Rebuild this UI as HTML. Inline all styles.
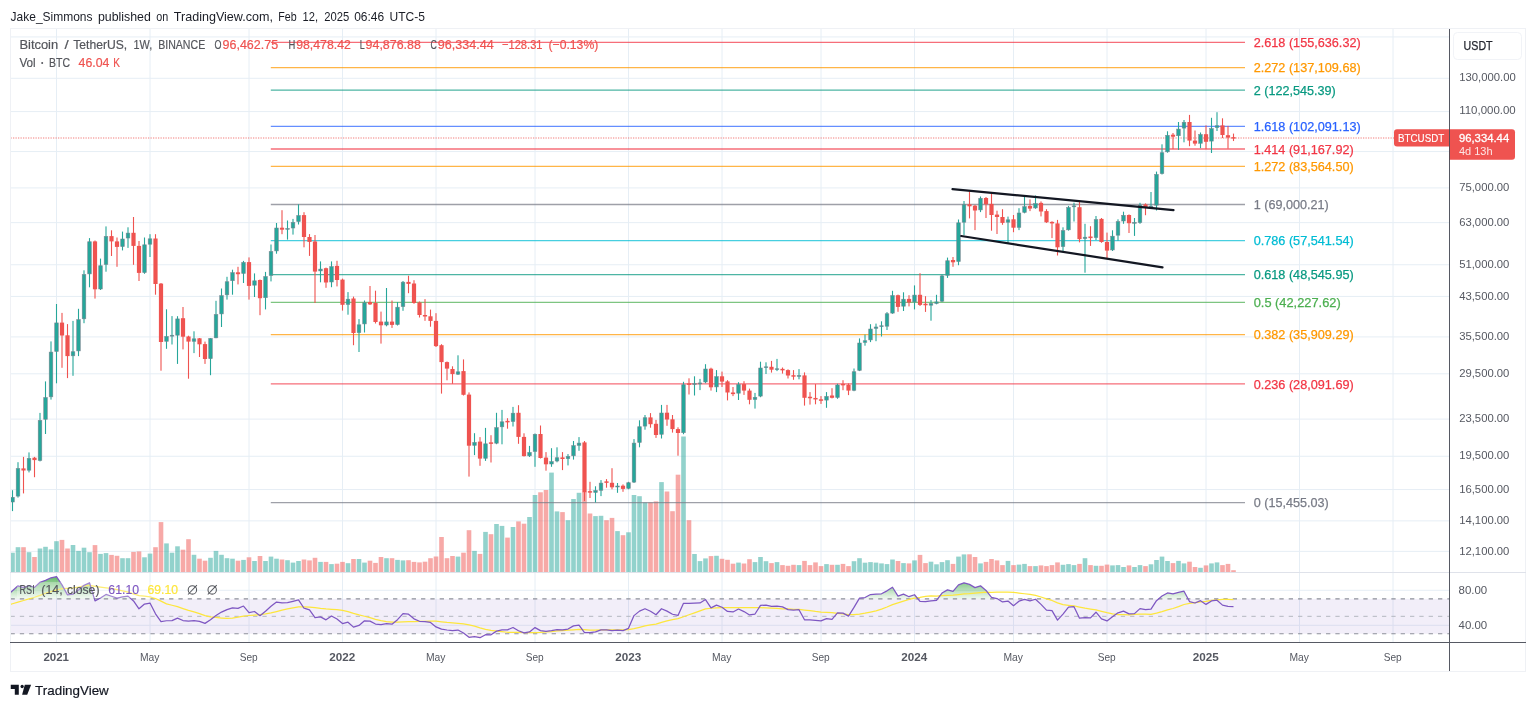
<!DOCTYPE html><html><head><meta charset="utf-8"><title>BTCUSDT</title><style>
html,body{margin:0;padding:0;background:#fff}body{width:1536px;height:709px;overflow:hidden;font-family:"Liberation Sans",sans-serif}svg{display:block;will-change:transform}text{font-family:"Liberation Sans",sans-serif}
</style></head><body>
<svg width="1536" height="709" viewBox="0 0 1536 709">
<rect width="1536" height="709" fill="#fff"/>
<g stroke="#e6eef5" stroke-width="1">
<line x1="56.5" y1="29" x2="56.5" y2="642"/>
<line x1="150.0" y1="29" x2="150.0" y2="642"/>
<line x1="249.0" y1="29" x2="249.0" y2="642"/>
<line x1="342.5" y1="29" x2="342.5" y2="642"/>
<line x1="436.0" y1="29" x2="436.0" y2="642"/>
<line x1="535.0" y1="29" x2="535.0" y2="642"/>
<line x1="628.5" y1="29" x2="628.5" y2="642"/>
<line x1="722.0" y1="29" x2="722.0" y2="642"/>
<line x1="821.0" y1="29" x2="821.0" y2="642"/>
<line x1="914.5" y1="29" x2="914.5" y2="642"/>
<line x1="1013.5" y1="29" x2="1013.5" y2="642"/>
<line x1="1107.0" y1="29" x2="1107.0" y2="642"/>
<line x1="1206.0" y1="29" x2="1206.0" y2="642"/>
<line x1="1299.5" y1="29" x2="1299.5" y2="642"/>
<line x1="1393.0" y1="29" x2="1393.0" y2="642"/>
<line x1="10" y1="36.94" x2="1450" y2="36.94"/>
<line x1="10" y1="151.57" x2="1450" y2="151.57"/>
<line x1="10" y1="78.31" x2="1450" y2="78.31"/>
<line x1="10" y1="111.59" x2="1450" y2="111.59"/>
<line x1="10" y1="187.9" x2="1450" y2="187.9"/>
<line x1="10" y1="222.64" x2="1450" y2="222.64"/>
<line x1="10" y1="264.74" x2="1450" y2="264.74"/>
<line x1="10" y1="296.43" x2="1450" y2="296.43"/>
<line x1="10" y1="336.92" x2="1450" y2="336.92"/>
<line x1="10" y1="373.8" x2="1450" y2="373.8"/>
<line x1="10" y1="419.11" x2="1450" y2="419.11"/>
<line x1="10" y1="456.28" x2="1450" y2="456.28"/>
<line x1="10" y1="489.56" x2="1450" y2="489.56"/>
<line x1="10" y1="520.88" x2="1450" y2="520.88"/>
<line x1="10" y1="551.36" x2="1450" y2="551.36"/>
<line x1="10" y1="590.3" x2="1450" y2="590.3"/>
<line x1="10" y1="625.3" x2="1450" y2="625.3"/>
</g>
<g>
<rect x="10.6" y="552.7" width="4.2" height="19.3" fill="#26a69a" fill-opacity="0.5"/>
<rect x="15.7" y="547.2" width="4.6" height="24.8" fill="#26a69a" fill-opacity="0.5"/>
<rect x="21.2" y="547.2" width="4.6" height="24.8" fill="#ef5350" fill-opacity="0.5"/>
<rect x="26.7" y="552.2" width="4.6" height="19.8" fill="#26a69a" fill-opacity="0.5"/>
<rect x="32.2" y="557" width="4.6" height="15" fill="#ef5350" fill-opacity="0.5"/>
<rect x="37.7" y="548.5" width="4.6" height="23.5" fill="#26a69a" fill-opacity="0.5"/>
<rect x="43.2" y="546.8" width="4.6" height="25.2" fill="#26a69a" fill-opacity="0.5"/>
<rect x="48.7" y="549.4" width="4.6" height="22.6" fill="#26a69a" fill-opacity="0.5"/>
<rect x="54.2" y="541.2" width="4.6" height="30.8" fill="#26a69a" fill-opacity="0.5"/>
<rect x="59.7" y="539.9" width="4.6" height="32.1" fill="#ef5350" fill-opacity="0.5"/>
<rect x="65.2" y="548.5" width="4.6" height="23.5" fill="#ef5350" fill-opacity="0.5"/>
<rect x="70.7" y="545" width="4.6" height="27" fill="#26a69a" fill-opacity="0.5"/>
<rect x="76.2" y="550.9" width="4.6" height="21.1" fill="#26a69a" fill-opacity="0.5"/>
<rect x="81.7" y="547.7" width="4.6" height="24.3" fill="#26a69a" fill-opacity="0.5"/>
<rect x="87.2" y="552.2" width="4.6" height="19.8" fill="#26a69a" fill-opacity="0.5"/>
<rect x="92.7" y="545.1" width="4.6" height="26.9" fill="#ef5350" fill-opacity="0.5"/>
<rect x="98.2" y="553.9" width="4.6" height="18.1" fill="#26a69a" fill-opacity="0.5"/>
<rect x="103.7" y="553.1" width="4.6" height="18.9" fill="#26a69a" fill-opacity="0.5"/>
<rect x="109.2" y="554.9" width="4.6" height="17.1" fill="#ef5350" fill-opacity="0.5"/>
<rect x="114.7" y="555.8" width="4.6" height="16.2" fill="#ef5350" fill-opacity="0.5"/>
<rect x="120.2" y="558.2" width="4.6" height="13.8" fill="#26a69a" fill-opacity="0.5"/>
<rect x="125.7" y="558.2" width="4.6" height="13.8" fill="#26a69a" fill-opacity="0.5"/>
<rect x="131.2" y="551.9" width="4.6" height="20.1" fill="#ef5350" fill-opacity="0.5"/>
<rect x="136.7" y="551.4" width="4.6" height="20.6" fill="#ef5350" fill-opacity="0.5"/>
<rect x="142.2" y="557.3" width="4.6" height="14.7" fill="#26a69a" fill-opacity="0.5"/>
<rect x="147.7" y="553.6" width="4.6" height="18.4" fill="#26a69a" fill-opacity="0.5"/>
<rect x="153.2" y="547.2" width="4.6" height="24.8" fill="#ef5350" fill-opacity="0.5"/>
<rect x="158.7" y="522.1" width="4.6" height="49.9" fill="#ef5350" fill-opacity="0.5"/>
<rect x="164.2" y="543.4" width="4.6" height="28.6" fill="#26a69a" fill-opacity="0.5"/>
<rect x="169.7" y="552.7" width="4.6" height="19.3" fill="#26a69a" fill-opacity="0.5"/>
<rect x="175.2" y="546.3" width="4.6" height="25.7" fill="#26a69a" fill-opacity="0.5"/>
<rect x="180.7" y="549.7" width="4.6" height="22.3" fill="#ef5350" fill-opacity="0.5"/>
<rect x="186.2" y="539.2" width="4.6" height="32.8" fill="#ef5350" fill-opacity="0.5"/>
<rect x="191.7" y="554.8" width="4.6" height="17.2" fill="#26a69a" fill-opacity="0.5"/>
<rect x="197.2" y="558.7" width="4.6" height="13.3" fill="#ef5350" fill-opacity="0.5"/>
<rect x="202.7" y="560.7" width="4.6" height="11.3" fill="#ef5350" fill-opacity="0.5"/>
<rect x="208.2" y="557.8" width="4.6" height="14.2" fill="#26a69a" fill-opacity="0.5"/>
<rect x="213.7" y="550.9" width="4.6" height="21.1" fill="#26a69a" fill-opacity="0.5"/>
<rect x="219.2" y="554.8" width="4.6" height="17.2" fill="#26a69a" fill-opacity="0.5"/>
<rect x="224.7" y="558.2" width="4.6" height="13.8" fill="#26a69a" fill-opacity="0.5"/>
<rect x="230.2" y="558.7" width="4.6" height="13.3" fill="#26a69a" fill-opacity="0.5"/>
<rect x="235.7" y="560.7" width="4.6" height="11.3" fill="#ef5350" fill-opacity="0.5"/>
<rect x="241.2" y="559.9" width="4.6" height="12.1" fill="#26a69a" fill-opacity="0.5"/>
<rect x="246.7" y="557.3" width="4.6" height="14.7" fill="#ef5350" fill-opacity="0.5"/>
<rect x="252.2" y="561" width="4.6" height="11" fill="#26a69a" fill-opacity="0.5"/>
<rect x="257.7" y="556" width="4.6" height="16" fill="#ef5350" fill-opacity="0.5"/>
<rect x="263.2" y="561" width="4.6" height="11" fill="#26a69a" fill-opacity="0.5"/>
<rect x="268.7" y="556.6" width="4.6" height="15.4" fill="#26a69a" fill-opacity="0.5"/>
<rect x="274.2" y="558.7" width="4.6" height="13.3" fill="#26a69a" fill-opacity="0.5"/>
<rect x="279.7" y="559.5" width="4.6" height="12.5" fill="#ef5350" fill-opacity="0.5"/>
<rect x="285.2" y="560.2" width="4.6" height="11.8" fill="#26a69a" fill-opacity="0.5"/>
<rect x="290.7" y="562.6" width="4.6" height="9.4" fill="#26a69a" fill-opacity="0.5"/>
<rect x="296.2" y="561" width="4.6" height="11" fill="#26a69a" fill-opacity="0.5"/>
<rect x="301.7" y="559.5" width="4.6" height="12.5" fill="#ef5350" fill-opacity="0.5"/>
<rect x="307.2" y="560.4" width="4.6" height="11.6" fill="#ef5350" fill-opacity="0.5"/>
<rect x="312.7" y="557.8" width="4.6" height="14.2" fill="#ef5350" fill-opacity="0.5"/>
<rect x="318.2" y="561.9" width="4.6" height="10.1" fill="#26a69a" fill-opacity="0.5"/>
<rect x="323.7" y="561.9" width="4.6" height="10.1" fill="#ef5350" fill-opacity="0.5"/>
<rect x="329.2" y="564.1" width="4.6" height="7.9" fill="#26a69a" fill-opacity="0.5"/>
<rect x="334.7" y="563.7" width="4.6" height="8.3" fill="#ef5350" fill-opacity="0.5"/>
<rect x="340.2" y="561.9" width="4.6" height="10.1" fill="#ef5350" fill-opacity="0.5"/>
<rect x="345.7" y="563.2" width="4.6" height="8.8" fill="#26a69a" fill-opacity="0.5"/>
<rect x="351.2" y="559" width="4.6" height="13" fill="#ef5350" fill-opacity="0.5"/>
<rect x="356.7" y="559" width="4.6" height="13" fill="#26a69a" fill-opacity="0.5"/>
<rect x="362.2" y="562.6" width="4.6" height="9.4" fill="#26a69a" fill-opacity="0.5"/>
<rect x="367.7" y="560.7" width="4.6" height="11.3" fill="#ef5350" fill-opacity="0.5"/>
<rect x="373.2" y="562.9" width="4.6" height="9.1" fill="#ef5350" fill-opacity="0.5"/>
<rect x="378.7" y="557" width="4.6" height="15" fill="#ef5350" fill-opacity="0.5"/>
<rect x="384.2" y="558.2" width="4.6" height="13.8" fill="#26a69a" fill-opacity="0.5"/>
<rect x="389.7" y="558.2" width="4.6" height="13.8" fill="#ef5350" fill-opacity="0.5"/>
<rect x="395.2" y="559.9" width="4.6" height="12.1" fill="#26a69a" fill-opacity="0.5"/>
<rect x="400.7" y="560.4" width="4.6" height="11.6" fill="#26a69a" fill-opacity="0.5"/>
<rect x="406.2" y="560.2" width="4.6" height="11.8" fill="#ef5350" fill-opacity="0.5"/>
<rect x="411.7" y="561.9" width="4.6" height="10.1" fill="#ef5350" fill-opacity="0.5"/>
<rect x="417.2" y="562.4" width="4.6" height="9.6" fill="#ef5350" fill-opacity="0.5"/>
<rect x="422.7" y="561.7" width="4.6" height="10.3" fill="#ef5350" fill-opacity="0.5"/>
<rect x="428.2" y="558.2" width="4.6" height="13.8" fill="#ef5350" fill-opacity="0.5"/>
<rect x="433.7" y="556.5" width="4.6" height="15.5" fill="#ef5350" fill-opacity="0.5"/>
<rect x="439.2" y="537" width="4.6" height="35" fill="#ef5350" fill-opacity="0.5"/>
<rect x="444.7" y="558.2" width="4.6" height="13.8" fill="#ef5350" fill-opacity="0.5"/>
<rect x="450.2" y="556" width="4.6" height="16" fill="#ef5350" fill-opacity="0.5"/>
<rect x="455.7" y="556.6" width="4.6" height="15.4" fill="#26a69a" fill-opacity="0.5"/>
<rect x="461.2" y="552.7" width="4.6" height="19.3" fill="#ef5350" fill-opacity="0.5"/>
<rect x="466.7" y="530.2" width="4.6" height="41.8" fill="#ef5350" fill-opacity="0.5"/>
<rect x="472.2" y="550.9" width="4.6" height="21.1" fill="#26a69a" fill-opacity="0.5"/>
<rect x="477.7" y="553.9" width="4.6" height="18.1" fill="#ef5350" fill-opacity="0.5"/>
<rect x="483.2" y="531.9" width="4.6" height="40.1" fill="#26a69a" fill-opacity="0.5"/>
<rect x="488.7" y="534.2" width="4.6" height="37.8" fill="#ef5350" fill-opacity="0.5"/>
<rect x="494.2" y="524" width="4.6" height="48" fill="#26a69a" fill-opacity="0.5"/>
<rect x="499.7" y="525.9" width="4.6" height="46.1" fill="#26a69a" fill-opacity="0.5"/>
<rect x="505.2" y="537.6" width="4.6" height="34.4" fill="#ef5350" fill-opacity="0.5"/>
<rect x="510.7" y="527" width="4.6" height="45" fill="#26a69a" fill-opacity="0.5"/>
<rect x="516.2" y="521.4" width="4.6" height="50.6" fill="#ef5350" fill-opacity="0.5"/>
<rect x="521.7" y="523.7" width="4.6" height="48.3" fill="#ef5350" fill-opacity="0.5"/>
<rect x="527.2" y="517" width="4.6" height="55" fill="#26a69a" fill-opacity="0.5"/>
<rect x="532.7" y="495" width="4.6" height="77" fill="#26a69a" fill-opacity="0.5"/>
<rect x="538.2" y="492.3" width="4.6" height="79.7" fill="#ef5350" fill-opacity="0.5"/>
<rect x="543.7" y="490" width="4.6" height="82" fill="#ef5350" fill-opacity="0.5"/>
<rect x="549.2" y="472.6" width="4.6" height="99.4" fill="#26a69a" fill-opacity="0.5"/>
<rect x="554.7" y="511.4" width="4.6" height="60.6" fill="#26a69a" fill-opacity="0.5"/>
<rect x="560.2" y="512.1" width="4.6" height="59.9" fill="#ef5350" fill-opacity="0.5"/>
<rect x="565.7" y="520.2" width="4.6" height="51.8" fill="#26a69a" fill-opacity="0.5"/>
<rect x="571.2" y="499" width="4.6" height="73" fill="#26a69a" fill-opacity="0.5"/>
<rect x="576.7" y="492.8" width="4.6" height="79.2" fill="#26a69a" fill-opacity="0.5"/>
<rect x="582.2" y="491.8" width="4.6" height="80.2" fill="#ef5350" fill-opacity="0.5"/>
<rect x="587.7" y="513.5" width="4.6" height="58.5" fill="#ef5350" fill-opacity="0.5"/>
<rect x="593.2" y="516.1" width="4.6" height="55.9" fill="#26a69a" fill-opacity="0.5"/>
<rect x="598.7" y="515.8" width="4.6" height="56.2" fill="#26a69a" fill-opacity="0.5"/>
<rect x="604.2" y="520.2" width="4.6" height="51.8" fill="#ef5350" fill-opacity="0.5"/>
<rect x="609.7" y="517.9" width="4.6" height="54.1" fill="#ef5350" fill-opacity="0.5"/>
<rect x="615.2" y="531.1" width="4.6" height="40.9" fill="#26a69a" fill-opacity="0.5"/>
<rect x="620.7" y="535.2" width="4.6" height="36.8" fill="#ef5350" fill-opacity="0.5"/>
<rect x="626.2" y="532.3" width="4.6" height="39.7" fill="#26a69a" fill-opacity="0.5"/>
<rect x="631.7" y="495" width="4.6" height="77" fill="#26a69a" fill-opacity="0.5"/>
<rect x="637.2" y="496.2" width="4.6" height="75.8" fill="#26a69a" fill-opacity="0.5"/>
<rect x="642.7" y="502.4" width="4.6" height="69.6" fill="#26a69a" fill-opacity="0.5"/>
<rect x="648.2" y="502.4" width="4.6" height="69.6" fill="#ef5350" fill-opacity="0.5"/>
<rect x="653.7" y="501.4" width="4.6" height="70.6" fill="#ef5350" fill-opacity="0.5"/>
<rect x="659.2" y="482.1" width="4.6" height="89.9" fill="#26a69a" fill-opacity="0.5"/>
<rect x="664.7" y="491.5" width="4.6" height="80.5" fill="#ef5350" fill-opacity="0.5"/>
<rect x="670.2" y="511.2" width="4.6" height="60.8" fill="#ef5350" fill-opacity="0.5"/>
<rect x="675.7" y="474.7" width="4.6" height="97.3" fill="#ef5350" fill-opacity="0.5"/>
<rect x="681.2" y="436.5" width="4.6" height="135.5" fill="#26a69a" fill-opacity="0.5"/>
<rect x="686.7" y="520.2" width="4.6" height="51.8" fill="#ef5350" fill-opacity="0.5"/>
<rect x="692.2" y="554" width="4.6" height="18" fill="#26a69a" fill-opacity="0.5"/>
<rect x="697.7" y="561.1" width="4.6" height="10.9" fill="#26a69a" fill-opacity="0.5"/>
<rect x="703.2" y="558.4" width="4.6" height="13.6" fill="#26a69a" fill-opacity="0.5"/>
<rect x="708.7" y="556.1" width="4.6" height="15.9" fill="#ef5350" fill-opacity="0.5"/>
<rect x="714.2" y="555.8" width="4.6" height="16.2" fill="#26a69a" fill-opacity="0.5"/>
<rect x="719.7" y="558.8" width="4.6" height="13.2" fill="#ef5350" fill-opacity="0.5"/>
<rect x="725.2" y="559.8" width="4.6" height="12.2" fill="#ef5350" fill-opacity="0.5"/>
<rect x="730.7" y="563.7" width="4.6" height="8.3" fill="#ef5350" fill-opacity="0.5"/>
<rect x="736.2" y="562.6" width="4.6" height="9.4" fill="#26a69a" fill-opacity="0.5"/>
<rect x="741.7" y="563.5" width="4.6" height="8.5" fill="#ef5350" fill-opacity="0.5"/>
<rect x="747.2" y="559.2" width="4.6" height="12.8" fill="#ef5350" fill-opacity="0.5"/>
<rect x="752.7" y="562.1" width="4.6" height="9.9" fill="#26a69a" fill-opacity="0.5"/>
<rect x="758.2" y="557" width="4.6" height="15" fill="#26a69a" fill-opacity="0.5"/>
<rect x="763.7" y="561.2" width="4.6" height="10.8" fill="#26a69a" fill-opacity="0.5"/>
<rect x="769.2" y="563.1" width="4.6" height="8.9" fill="#ef5350" fill-opacity="0.5"/>
<rect x="774.7" y="562.1" width="4.6" height="9.9" fill="#26a69a" fill-opacity="0.5"/>
<rect x="780.2" y="565.1" width="4.6" height="6.9" fill="#ef5350" fill-opacity="0.5"/>
<rect x="785.7" y="565.8" width="4.6" height="6.2" fill="#ef5350" fill-opacity="0.5"/>
<rect x="791.2" y="564.8" width="4.6" height="7.2" fill="#ef5350" fill-opacity="0.5"/>
<rect x="796.7" y="565.1" width="4.6" height="6.9" fill="#26a69a" fill-opacity="0.5"/>
<rect x="802.2" y="560.9" width="4.6" height="11.1" fill="#ef5350" fill-opacity="0.5"/>
<rect x="807.7" y="565.1" width="4.6" height="6.9" fill="#ef5350" fill-opacity="0.5"/>
<rect x="813.2" y="562.4" width="4.6" height="9.6" fill="#ef5350" fill-opacity="0.5"/>
<rect x="818.7" y="566.1" width="4.6" height="5.9" fill="#ef5350" fill-opacity="0.5"/>
<rect x="824.2" y="564.1" width="4.6" height="7.9" fill="#26a69a" fill-opacity="0.5"/>
<rect x="829.7" y="564.8" width="4.6" height="7.2" fill="#ef5350" fill-opacity="0.5"/>
<rect x="835.2" y="564.8" width="4.6" height="7.2" fill="#26a69a" fill-opacity="0.5"/>
<rect x="840.7" y="563.9" width="4.6" height="8.1" fill="#ef5350" fill-opacity="0.5"/>
<rect x="846.2" y="566.1" width="4.6" height="5.9" fill="#ef5350" fill-opacity="0.5"/>
<rect x="851.7" y="561.2" width="4.6" height="10.8" fill="#26a69a" fill-opacity="0.5"/>
<rect x="857.2" y="558.2" width="4.6" height="13.8" fill="#26a69a" fill-opacity="0.5"/>
<rect x="862.7" y="562.7" width="4.6" height="9.3" fill="#26a69a" fill-opacity="0.5"/>
<rect x="868.2" y="562.1" width="4.6" height="9.9" fill="#26a69a" fill-opacity="0.5"/>
<rect x="873.7" y="562.6" width="4.6" height="9.4" fill="#26a69a" fill-opacity="0.5"/>
<rect x="879.2" y="563.4" width="4.6" height="8.6" fill="#26a69a" fill-opacity="0.5"/>
<rect x="884.7" y="564.1" width="4.6" height="7.9" fill="#26a69a" fill-opacity="0.5"/>
<rect x="890.2" y="559.5" width="4.6" height="12.5" fill="#26a69a" fill-opacity="0.5"/>
<rect x="895.7" y="561" width="4.6" height="11" fill="#ef5350" fill-opacity="0.5"/>
<rect x="901.2" y="563.1" width="4.6" height="8.9" fill="#26a69a" fill-opacity="0.5"/>
<rect x="906.7" y="563.4" width="4.6" height="8.6" fill="#ef5350" fill-opacity="0.5"/>
<rect x="912.2" y="560.4" width="4.6" height="11.6" fill="#26a69a" fill-opacity="0.5"/>
<rect x="917.7" y="554.9" width="4.6" height="17.1" fill="#ef5350" fill-opacity="0.5"/>
<rect x="923.2" y="563.1" width="4.6" height="8.9" fill="#ef5350" fill-opacity="0.5"/>
<rect x="928.7" y="561.7" width="4.6" height="10.3" fill="#26a69a" fill-opacity="0.5"/>
<rect x="934.2" y="564.3" width="4.6" height="7.7" fill="#26a69a" fill-opacity="0.5"/>
<rect x="939.7" y="562.1" width="4.6" height="9.9" fill="#26a69a" fill-opacity="0.5"/>
<rect x="945.2" y="560.2" width="4.6" height="11.8" fill="#26a69a" fill-opacity="0.5"/>
<rect x="950.7" y="563.9" width="4.6" height="8.1" fill="#ef5350" fill-opacity="0.5"/>
<rect x="956.2" y="556.6" width="4.6" height="15.4" fill="#26a69a" fill-opacity="0.5"/>
<rect x="961.7" y="554.4" width="4.6" height="17.6" fill="#26a69a" fill-opacity="0.5"/>
<rect x="967.2" y="554.3" width="4.6" height="17.7" fill="#ef5350" fill-opacity="0.5"/>
<rect x="972.7" y="557" width="4.6" height="15" fill="#ef5350" fill-opacity="0.5"/>
<rect x="978.2" y="563.4" width="4.6" height="8.6" fill="#26a69a" fill-opacity="0.5"/>
<rect x="983.7" y="561.9" width="4.6" height="10.1" fill="#ef5350" fill-opacity="0.5"/>
<rect x="989.2" y="559" width="4.6" height="13" fill="#ef5350" fill-opacity="0.5"/>
<rect x="994.7" y="560.4" width="4.6" height="11.6" fill="#ef5350" fill-opacity="0.5"/>
<rect x="1000.2" y="565.1" width="4.6" height="6.9" fill="#ef5350" fill-opacity="0.5"/>
<rect x="1005.7" y="560.9" width="4.6" height="11.1" fill="#26a69a" fill-opacity="0.5"/>
<rect x="1011.2" y="565.1" width="4.6" height="6.9" fill="#ef5350" fill-opacity="0.5"/>
<rect x="1016.7" y="564.6" width="4.6" height="7.4" fill="#26a69a" fill-opacity="0.5"/>
<rect x="1022.2" y="563.9" width="4.6" height="8.1" fill="#26a69a" fill-opacity="0.5"/>
<rect x="1027.7" y="566.1" width="4.6" height="5.9" fill="#ef5350" fill-opacity="0.5"/>
<rect x="1033.2" y="566.1" width="4.6" height="5.9" fill="#26a69a" fill-opacity="0.5"/>
<rect x="1038.7" y="565.4" width="4.6" height="6.6" fill="#ef5350" fill-opacity="0.5"/>
<rect x="1044.2" y="566.1" width="4.6" height="5.9" fill="#ef5350" fill-opacity="0.5"/>
<rect x="1049.7" y="565.1" width="4.6" height="6.9" fill="#ef5350" fill-opacity="0.5"/>
<rect x="1055.2" y="562.4" width="4.6" height="9.6" fill="#ef5350" fill-opacity="0.5"/>
<rect x="1060.7" y="564.8" width="4.6" height="7.2" fill="#26a69a" fill-opacity="0.5"/>
<rect x="1066.2" y="564.1" width="4.6" height="7.9" fill="#26a69a" fill-opacity="0.5"/>
<rect x="1071.7" y="565.1" width="4.6" height="6.9" fill="#26a69a" fill-opacity="0.5"/>
<rect x="1077.2" y="563.9" width="4.6" height="8.1" fill="#ef5350" fill-opacity="0.5"/>
<rect x="1082.7" y="558.2" width="4.6" height="13.8" fill="#26a69a" fill-opacity="0.5"/>
<rect x="1088.2" y="565.1" width="4.6" height="6.9" fill="#ef5350" fill-opacity="0.5"/>
<rect x="1093.7" y="565.8" width="4.6" height="6.2" fill="#26a69a" fill-opacity="0.5"/>
<rect x="1099.2" y="565.8" width="4.6" height="6.2" fill="#ef5350" fill-opacity="0.5"/>
<rect x="1104.7" y="564.6" width="4.6" height="7.4" fill="#ef5350" fill-opacity="0.5"/>
<rect x="1110.2" y="565.4" width="4.6" height="6.6" fill="#26a69a" fill-opacity="0.5"/>
<rect x="1115.7" y="565.1" width="4.6" height="6.9" fill="#26a69a" fill-opacity="0.5"/>
<rect x="1121.2" y="567" width="4.6" height="5" fill="#26a69a" fill-opacity="0.5"/>
<rect x="1126.7" y="565.4" width="4.6" height="6.6" fill="#ef5350" fill-opacity="0.5"/>
<rect x="1132.2" y="567" width="4.6" height="5" fill="#26a69a" fill-opacity="0.5"/>
<rect x="1137.7" y="565.1" width="4.6" height="6.9" fill="#26a69a" fill-opacity="0.5"/>
<rect x="1143.2" y="566.1" width="4.6" height="5.9" fill="#ef5350" fill-opacity="0.5"/>
<rect x="1148.7" y="564.3" width="4.6" height="7.7" fill="#26a69a" fill-opacity="0.5"/>
<rect x="1154.2" y="560" width="4.6" height="12" fill="#26a69a" fill-opacity="0.5"/>
<rect x="1159.7" y="556.6" width="4.6" height="15.4" fill="#26a69a" fill-opacity="0.5"/>
<rect x="1165.2" y="561" width="4.6" height="11" fill="#26a69a" fill-opacity="0.5"/>
<rect x="1170.7" y="563.1" width="4.6" height="8.9" fill="#ef5350" fill-opacity="0.5"/>
<rect x="1176.2" y="560.9" width="4.6" height="11.1" fill="#26a69a" fill-opacity="0.5"/>
<rect x="1181.7" y="563.4" width="4.6" height="8.6" fill="#26a69a" fill-opacity="0.5"/>
<rect x="1187.2" y="561.7" width="4.6" height="10.3" fill="#ef5350" fill-opacity="0.5"/>
<rect x="1192.7" y="567" width="4.6" height="5" fill="#ef5350" fill-opacity="0.5"/>
<rect x="1198.2" y="567.8" width="4.6" height="4.2" fill="#26a69a" fill-opacity="0.5"/>
<rect x="1203.7" y="565.4" width="4.6" height="6.6" fill="#ef5350" fill-opacity="0.5"/>
<rect x="1209.2" y="563.4" width="4.6" height="8.6" fill="#26a69a" fill-opacity="0.5"/>
<rect x="1214.7" y="562.4" width="4.6" height="9.6" fill="#26a69a" fill-opacity="0.5"/>
<rect x="1220.2" y="565.1" width="4.6" height="6.9" fill="#ef5350" fill-opacity="0.5"/>
<rect x="1225.7" y="563.9" width="4.6" height="8.1" fill="#ef5350" fill-opacity="0.5"/>
<rect x="1231.2" y="570.2" width="4.6" height="1.8" fill="#ef5350" fill-opacity="0.5"/>
</g>
<line x1="270.8" y1="42.45" x2="1245" y2="42.45" stroke="#f23645" stroke-width="1.3" stroke-opacity="0.72"/>
<text x="1253.7" y="47.1" font-size="13" fill="#f23645" stroke="#f23645" stroke-width="0.25" textLength="107" lengthAdjust="spacingAndGlyphs">2.618 (155,636.32)</text>
<line x1="270.8" y1="67.7" x2="1245" y2="67.7" stroke="#ff9800" stroke-width="1.3" stroke-opacity="0.72"/>
<text x="1253.7" y="72.35" font-size="13" fill="#ff9800" stroke="#ff9800" stroke-width="0.25" textLength="107" lengthAdjust="spacingAndGlyphs">2.272 (137,109.68)</text>
<line x1="270.8" y1="90.08" x2="1245" y2="90.08" stroke="#089981" stroke-width="1.3" stroke-opacity="0.72"/>
<text x="1253.7" y="94.73" font-size="13" fill="#089981" stroke="#089981" stroke-width="0.25" textLength="82" lengthAdjust="spacingAndGlyphs">2 (122,545.39)</text>
<line x1="270.8" y1="126.46" x2="1245" y2="126.46" stroke="#2962ff" stroke-width="1.3" stroke-opacity="0.72"/>
<text x="1253.7" y="131.11" font-size="13" fill="#2962ff" stroke="#2962ff" stroke-width="0.25" textLength="107" lengthAdjust="spacingAndGlyphs">1.618 (102,091.13)</text>
<line x1="270.8" y1="149.0" x2="1245" y2="149.0" stroke="#f23645" stroke-width="1.3" stroke-opacity="0.72"/>
<text x="1253.7" y="153.65" font-size="13" fill="#f23645" stroke="#f23645" stroke-width="0.25" textLength="100" lengthAdjust="spacingAndGlyphs">1.414 (91,167.92)</text>
<line x1="270.8" y1="166.35" x2="1245" y2="166.35" stroke="#ff9800" stroke-width="1.3" stroke-opacity="0.72"/>
<text x="1253.7" y="171" font-size="13" fill="#ff9800" stroke="#ff9800" stroke-width="0.25" textLength="100" lengthAdjust="spacingAndGlyphs">1.272 (83,564.50)</text>
<line x1="270.8" y1="204.51" x2="1245" y2="204.51" stroke="#787b86" stroke-width="1.3" stroke-opacity="0.72"/>
<text x="1253.7" y="209.16" font-size="13" fill="#787b86" stroke="#787b86" stroke-width="0.25" textLength="75" lengthAdjust="spacingAndGlyphs">1 (69,000.21)</text>
<line x1="270.8" y1="240.69" x2="1245" y2="240.69" stroke="#00bcd4" stroke-width="1.3" stroke-opacity="0.72"/>
<text x="1253.7" y="245.34" font-size="13" fill="#00bcd4" stroke="#00bcd4" stroke-width="0.25" textLength="100" lengthAdjust="spacingAndGlyphs">0.786 (57,541.54)</text>
<line x1="270.8" y1="274.56" x2="1245" y2="274.56" stroke="#089981" stroke-width="1.3" stroke-opacity="0.72"/>
<text x="1253.7" y="279.21" font-size="13" fill="#089981" stroke="#089981" stroke-width="0.25" textLength="100" lengthAdjust="spacingAndGlyphs">0.618 (48,545.95)</text>
<line x1="270.8" y1="302.34" x2="1245" y2="302.34" stroke="#4caf50" stroke-width="1.3" stroke-opacity="0.72"/>
<text x="1253.7" y="306.99" font-size="13" fill="#4caf50" stroke="#4caf50" stroke-width="0.25" textLength="87" lengthAdjust="spacingAndGlyphs">0.5 (42,227.62)</text>
<line x1="270.8" y1="334.63" x2="1245" y2="334.63" stroke="#ff9800" stroke-width="1.3" stroke-opacity="0.72"/>
<text x="1253.7" y="339.28" font-size="13" fill="#ff9800" stroke="#ff9800" stroke-width="0.25" textLength="100" lengthAdjust="spacingAndGlyphs">0.382 (35,909.29)</text>
<line x1="270.8" y1="383.85" x2="1245" y2="383.85" stroke="#f23645" stroke-width="1.3" stroke-opacity="0.72"/>
<text x="1253.7" y="388.5" font-size="13" fill="#f23645" stroke="#f23645" stroke-width="0.25" textLength="100" lengthAdjust="spacingAndGlyphs">0.236 (28,091.69)</text>
<line x1="270.8" y1="502.6" x2="1245" y2="502.6" stroke="#787b86" stroke-width="1.3" stroke-opacity="0.72"/>
<text x="1253.7" y="507.25" font-size="13" fill="#787b86" stroke="#787b86" stroke-width="0.25" textLength="75" lengthAdjust="spacingAndGlyphs">0 (15,455.03)</text>
<line x1="10.5" y1="138" x2="1394" y2="138" stroke="#ef5350" stroke-width="1.2" stroke-dasharray="1.25 1.25" stroke-opacity="0.75"/>
<g>
<rect x="11.95" y="490.2" width="1.1" height="20.9" fill="#26a69a"/>
<rect x="10.9" y="497.3" width="3.4" height="4.7" fill="#26a69a" stroke="#7b7f8c" stroke-width="0.6" stroke-opacity="0.85"/>
<rect x="17.45" y="462.2" width="1.1" height="35.4" fill="#26a69a"/>
<rect x="16.2" y="468.5" width="3.6" height="27.6" fill="#26a69a" stroke="#7b7f8c" stroke-width="0.6" stroke-opacity="0.85"/>
<rect x="22.95" y="456.9" width="1.1" height="36.5" fill="#ef5350"/>
<rect x="21.4" y="468.4" width="4.2" height="2.1" fill="#ef5350"/>
<rect x="28.45" y="452.4" width="1.1" height="20" fill="#26a69a"/>
<rect x="27.2" y="458.4" width="3.6" height="11.8" fill="#26a69a" stroke="#7b7f8c" stroke-width="0.6" stroke-opacity="0.85"/>
<rect x="33.95" y="456.9" width="1.1" height="20.3" fill="#ef5350"/>
<rect x="32.4" y="457.7" width="4.2" height="2.4" fill="#ef5350"/>
<rect x="39.45" y="412.9" width="1.1" height="48.5" fill="#26a69a"/>
<rect x="38.2" y="420.4" width="3.6" height="40.1" fill="#26a69a" stroke="#7b7f8c" stroke-width="0.6" stroke-opacity="0.85"/>
<rect x="44.95" y="381.4" width="1.1" height="52.6" fill="#26a69a"/>
<rect x="43.7" y="397.5" width="3.6" height="21.8" fill="#26a69a" stroke="#7b7f8c" stroke-width="0.6" stroke-opacity="0.85"/>
<rect x="50.45" y="341.4" width="1.1" height="58.2" fill="#26a69a"/>
<rect x="49.2" y="352.1" width="3.6" height="44.7" fill="#26a69a" stroke="#7b7f8c" stroke-width="0.6" stroke-opacity="0.85"/>
<rect x="55.95" y="304" width="1.1" height="79.3" fill="#26a69a"/>
<rect x="54.7" y="322.9" width="3.6" height="28.6" fill="#26a69a" stroke="#7b7f8c" stroke-width="0.6" stroke-opacity="0.85"/>
<rect x="61.45" y="312.9" width="1.1" height="54.9" fill="#ef5350"/>
<rect x="59.9" y="322.6" width="4.2" height="12.9" fill="#ef5350"/>
<rect x="66.95" y="324.1" width="1.1" height="54" fill="#ef5350"/>
<rect x="65.4" y="335.3" width="4.2" height="20.8" fill="#ef5350"/>
<rect x="72.45" y="320.9" width="1.1" height="54.9" fill="#26a69a"/>
<rect x="71.2" y="351.7" width="3.6" height="4.1" fill="#26a69a" stroke="#7b7f8c" stroke-width="0.6" stroke-opacity="0.85"/>
<rect x="77.95" y="308.8" width="1.1" height="47.3" fill="#26a69a"/>
<rect x="76.7" y="319.6" width="3.6" height="31.3" fill="#26a69a" stroke="#7b7f8c" stroke-width="0.6" stroke-opacity="0.85"/>
<rect x="83.45" y="270.3" width="1.1" height="52.9" fill="#26a69a"/>
<rect x="82.2" y="274.5" width="3.6" height="44.3" fill="#26a69a" stroke="#7b7f8c" stroke-width="0.6" stroke-opacity="0.85"/>
<rect x="88.95" y="238.1" width="1.1" height="49.2" fill="#26a69a"/>
<rect x="87.7" y="241.7" width="3.6" height="32.2" fill="#26a69a" stroke="#7b7f8c" stroke-width="0.6" stroke-opacity="0.85"/>
<rect x="94.45" y="240.5" width="1.1" height="58.1" fill="#ef5350"/>
<rect x="92.9" y="241.4" width="4.2" height="47.9" fill="#ef5350"/>
<rect x="99.95" y="258.6" width="1.1" height="31.4" fill="#26a69a"/>
<rect x="98.7" y="265.7" width="3.6" height="23.3" fill="#26a69a" stroke="#7b7f8c" stroke-width="0.6" stroke-opacity="0.85"/>
<rect x="105.45" y="226.4" width="1.1" height="45.3" fill="#26a69a"/>
<rect x="104.2" y="236.4" width="3.6" height="28.1" fill="#26a69a" stroke="#7b7f8c" stroke-width="0.6" stroke-opacity="0.85"/>
<rect x="110.95" y="230.3" width="1.1" height="25.7" fill="#ef5350"/>
<rect x="109.4" y="236.1" width="4.2" height="5.3" fill="#ef5350"/>
<rect x="116.45" y="237.5" width="1.1" height="29.3" fill="#ef5350"/>
<rect x="114.9" y="241.4" width="4.2" height="5.5" fill="#ef5350"/>
<rect x="121.95" y="231.6" width="1.1" height="18.8" fill="#26a69a"/>
<rect x="120.7" y="239" width="3.6" height="7.6" fill="#26a69a" stroke="#7b7f8c" stroke-width="0.6" stroke-opacity="0.85"/>
<rect x="127.45" y="227.3" width="1.1" height="20.6" fill="#26a69a"/>
<rect x="126.2" y="233.1" width="3.6" height="4.9" fill="#26a69a" stroke="#7b7f8c" stroke-width="0.6" stroke-opacity="0.85"/>
<rect x="132.95" y="217" width="1.1" height="47.8" fill="#ef5350"/>
<rect x="131.4" y="232.8" width="4.2" height="13.1" fill="#ef5350"/>
<rect x="138.45" y="241" width="1.1" height="40" fill="#ef5350"/>
<rect x="136.9" y="245.9" width="4.2" height="27" fill="#ef5350"/>
<rect x="143.95" y="237.5" width="1.1" height="36.3" fill="#26a69a"/>
<rect x="142.7" y="244.8" width="3.6" height="27.8" fill="#26a69a" stroke="#7b7f8c" stroke-width="0.6" stroke-opacity="0.85"/>
<rect x="149.45" y="234.2" width="1.1" height="22.8" fill="#26a69a"/>
<rect x="148.2" y="238.8" width="3.6" height="5.4" fill="#26a69a" stroke="#7b7f8c" stroke-width="0.6" stroke-opacity="0.85"/>
<rect x="154.95" y="234.2" width="1.1" height="60.5" fill="#ef5350"/>
<rect x="153.4" y="238.5" width="4.2" height="45.5" fill="#ef5350"/>
<rect x="160.45" y="283" width="1.1" height="87.7" fill="#ef5350"/>
<rect x="158.9" y="283.6" width="4.2" height="58.4" fill="#ef5350"/>
<rect x="165.95" y="309.3" width="1.1" height="39.5" fill="#26a69a"/>
<rect x="164.7" y="336.4" width="3.6" height="4.9" fill="#26a69a" stroke="#7b7f8c" stroke-width="0.6" stroke-opacity="0.85"/>
<rect x="171.45" y="316.1" width="1.1" height="28.4" fill="#26a69a"/>
<rect x="170.2" y="335.25" width="3.6" height="0.9" fill="#26a69a" stroke="#7b7f8c" stroke-width="0.6" stroke-opacity="0.85"/>
<rect x="176.95" y="316.2" width="1.1" height="47.7" fill="#26a69a"/>
<rect x="175.7" y="318.9" width="3.6" height="16.3" fill="#26a69a" stroke="#7b7f8c" stroke-width="0.6" stroke-opacity="0.85"/>
<rect x="182.45" y="307" width="1.1" height="42.4" fill="#ef5350"/>
<rect x="180.9" y="318.2" width="4.2" height="18.5" fill="#ef5350"/>
<rect x="187.95" y="335.7" width="1.1" height="43" fill="#ef5350"/>
<rect x="186.4" y="336.5" width="4.2" height="5.1" fill="#ef5350"/>
<rect x="193.45" y="331.3" width="1.1" height="21.8" fill="#26a69a"/>
<rect x="192.2" y="338.8" width="3.6" height="2.5" fill="#26a69a" stroke="#7b7f8c" stroke-width="0.6" stroke-opacity="0.85"/>
<rect x="198.95" y="338" width="1.1" height="19" fill="#ef5350"/>
<rect x="197.4" y="338.3" width="4.2" height="6" fill="#ef5350"/>
<rect x="204.45" y="341.6" width="1.1" height="22.3" fill="#ef5350"/>
<rect x="202.9" y="344.1" width="4.2" height="14.9" fill="#ef5350"/>
<rect x="209.95" y="338" width="1.1" height="37.2" fill="#26a69a"/>
<rect x="208.7" y="338.4" width="3.6" height="20.3" fill="#26a69a" stroke="#7b7f8c" stroke-width="0.6" stroke-opacity="0.85"/>
<rect x="215.45" y="300.8" width="1.1" height="37.4" fill="#26a69a"/>
<rect x="214.2" y="314.5" width="3.6" height="23.3" fill="#26a69a" stroke="#7b7f8c" stroke-width="0.6" stroke-opacity="0.85"/>
<rect x="220.95" y="288.5" width="1.1" height="38.5" fill="#26a69a"/>
<rect x="219.7" y="295.6" width="3.6" height="18.3" fill="#26a69a" stroke="#7b7f8c" stroke-width="0.6" stroke-opacity="0.85"/>
<rect x="226.45" y="276.8" width="1.1" height="22.8" fill="#26a69a"/>
<rect x="225.2" y="281.7" width="3.6" height="13.1" fill="#26a69a" stroke="#7b7f8c" stroke-width="0.6" stroke-opacity="0.85"/>
<rect x="231.95" y="269.7" width="1.1" height="25" fill="#26a69a"/>
<rect x="230.7" y="272.6" width="3.6" height="8.1" fill="#26a69a" stroke="#7b7f8c" stroke-width="0.6" stroke-opacity="0.85"/>
<rect x="237.45" y="266.8" width="1.1" height="17.6" fill="#ef5350"/>
<rect x="235.9" y="272.3" width="4.2" height="1.9" fill="#ef5350"/>
<rect x="242.95" y="260.9" width="1.1" height="22.1" fill="#26a69a"/>
<rect x="241.7" y="262.4" width="3.6" height="11.1" fill="#26a69a" stroke="#7b7f8c" stroke-width="0.6" stroke-opacity="0.85"/>
<rect x="248.45" y="257.4" width="1.1" height="42.2" fill="#ef5350"/>
<rect x="246.9" y="262.1" width="4.2" height="23.8" fill="#ef5350"/>
<rect x="253.95" y="273.4" width="1.1" height="23.6" fill="#26a69a"/>
<rect x="252.7" y="280.8" width="3.6" height="4.4" fill="#26a69a" stroke="#7b7f8c" stroke-width="0.6" stroke-opacity="0.85"/>
<rect x="259.45" y="279.5" width="1.1" height="35.7" fill="#ef5350"/>
<rect x="257.9" y="280" width="4.2" height="18.2" fill="#ef5350"/>
<rect x="264.95" y="271.9" width="1.1" height="37.5" fill="#26a69a"/>
<rect x="263.7" y="276.5" width="3.6" height="21.2" fill="#26a69a" stroke="#7b7f8c" stroke-width="0.6" stroke-opacity="0.85"/>
<rect x="270.45" y="244.5" width="1.1" height="36.9" fill="#26a69a"/>
<rect x="269.2" y="251.5" width="3.6" height="24" fill="#26a69a" stroke="#7b7f8c" stroke-width="0.6" stroke-opacity="0.85"/>
<rect x="275.95" y="223" width="1.1" height="30.7" fill="#26a69a"/>
<rect x="274.7" y="228" width="3.6" height="22.9" fill="#26a69a" stroke="#7b7f8c" stroke-width="0.6" stroke-opacity="0.85"/>
<rect x="281.45" y="210.2" width="1.1" height="24" fill="#ef5350"/>
<rect x="279.9" y="227.7" width="4.2" height="2" fill="#ef5350"/>
<rect x="286.95" y="220.5" width="1.1" height="19.1" fill="#26a69a"/>
<rect x="285.7" y="228.45" width="3.6" height="0.9" fill="#26a69a" stroke="#7b7f8c" stroke-width="0.6" stroke-opacity="0.85"/>
<rect x="292.45" y="218.9" width="1.1" height="15.7" fill="#26a69a"/>
<rect x="291.2" y="222.4" width="3.6" height="5.6" fill="#26a69a" stroke="#7b7f8c" stroke-width="0.6" stroke-opacity="0.85"/>
<rect x="297.95" y="204.3" width="1.1" height="20.2" fill="#26a69a"/>
<rect x="296.7" y="215.5" width="3.6" height="6.1" fill="#26a69a" stroke="#7b7f8c" stroke-width="0.6" stroke-opacity="0.85"/>
<rect x="303.45" y="212.2" width="1.1" height="35.1" fill="#ef5350"/>
<rect x="301.9" y="215.1" width="4.2" height="21.9" fill="#ef5350"/>
<rect x="308.95" y="234.1" width="1.1" height="21.8" fill="#ef5350"/>
<rect x="307.4" y="237" width="4.2" height="4.9" fill="#ef5350"/>
<rect x="314.45" y="235" width="1.1" height="68" fill="#ef5350"/>
<rect x="312.9" y="241.5" width="4.2" height="30.1" fill="#ef5350"/>
<rect x="319.95" y="261.4" width="1.1" height="20.9" fill="#26a69a"/>
<rect x="318.7" y="269.1" width="3.6" height="1.8" fill="#26a69a" stroke="#7b7f8c" stroke-width="0.6" stroke-opacity="0.85"/>
<rect x="325.45" y="267.6" width="1.1" height="20.2" fill="#ef5350"/>
<rect x="323.9" y="268.2" width="4.2" height="14.3" fill="#ef5350"/>
<rect x="330.95" y="261.4" width="1.1" height="25.8" fill="#26a69a"/>
<rect x="329.7" y="266.6" width="3.6" height="15.4" fill="#26a69a" stroke="#7b7f8c" stroke-width="0.6" stroke-opacity="0.85"/>
<rect x="336.45" y="260.8" width="1.1" height="25.6" fill="#ef5350"/>
<rect x="334.9" y="265.9" width="4.2" height="14.1" fill="#ef5350"/>
<rect x="341.95" y="278.6" width="1.1" height="32" fill="#ef5350"/>
<rect x="340.4" y="279.6" width="4.2" height="25.2" fill="#ef5350"/>
<rect x="347.45" y="292.1" width="1.1" height="22.6" fill="#26a69a"/>
<rect x="346.2" y="299.2" width="3.6" height="5.3" fill="#26a69a" stroke="#7b7f8c" stroke-width="0.6" stroke-opacity="0.85"/>
<rect x="352.95" y="296.6" width="1.1" height="48.6" fill="#ef5350"/>
<rect x="351.4" y="298.5" width="4.2" height="34.5" fill="#ef5350"/>
<rect x="358.45" y="319.1" width="1.1" height="32.9" fill="#26a69a"/>
<rect x="357.2" y="324.8" width="3.6" height="7.9" fill="#26a69a" stroke="#7b7f8c" stroke-width="0.6" stroke-opacity="0.85"/>
<rect x="363.95" y="300.5" width="1.1" height="32" fill="#26a69a"/>
<rect x="362.7" y="302.7" width="3.6" height="21.2" fill="#26a69a" stroke="#7b7f8c" stroke-width="0.6" stroke-opacity="0.85"/>
<rect x="369.45" y="286" width="1.1" height="19" fill="#ef5350"/>
<rect x="367.9" y="302" width="4.2" height="2.4" fill="#ef5350"/>
<rect x="374.95" y="290.7" width="1.1" height="32.8" fill="#ef5350"/>
<rect x="373.4" y="303" width="4.2" height="19" fill="#ef5350"/>
<rect x="380.45" y="311.6" width="1.1" height="32" fill="#ef5350"/>
<rect x="378.9" y="321.6" width="4.2" height="3.7" fill="#ef5350"/>
<rect x="385.95" y="288" width="1.1" height="38.3" fill="#26a69a"/>
<rect x="384.7" y="321.9" width="3.6" height="3.1" fill="#26a69a" stroke="#7b7f8c" stroke-width="0.6" stroke-opacity="0.85"/>
<rect x="391.45" y="300.5" width="1.1" height="27.4" fill="#ef5350"/>
<rect x="389.9" y="321.6" width="4.2" height="3.3" fill="#ef5350"/>
<rect x="396.95" y="302" width="1.1" height="23.5" fill="#26a69a"/>
<rect x="395.7" y="307.2" width="3.6" height="17.4" fill="#26a69a" stroke="#7b7f8c" stroke-width="0.6" stroke-opacity="0.85"/>
<rect x="402.45" y="281" width="1.1" height="29.8" fill="#26a69a"/>
<rect x="401.2" y="282.2" width="3.6" height="24.4" fill="#26a69a" stroke="#7b7f8c" stroke-width="0.6" stroke-opacity="0.85"/>
<rect x="407.95" y="275.7" width="1.1" height="17.5" fill="#ef5350"/>
<rect x="406.4" y="281.9" width="4.2" height="2" fill="#ef5350"/>
<rect x="413.45" y="280.2" width="1.1" height="23.6" fill="#ef5350"/>
<rect x="411.9" y="283.5" width="4.2" height="19.5" fill="#ef5350"/>
<rect x="418.95" y="301.5" width="1.1" height="16" fill="#ef5350"/>
<rect x="417.4" y="302.4" width="4.2" height="12.6" fill="#ef5350"/>
<rect x="424.45" y="299.1" width="1.1" height="21.7" fill="#ef5350"/>
<rect x="422.9" y="315" width="4.2" height="1.5" fill="#ef5350"/>
<rect x="429.95" y="309.6" width="1.1" height="17.1" fill="#ef5350"/>
<rect x="428.4" y="316.3" width="4.2" height="4.6" fill="#ef5350"/>
<rect x="435.45" y="313.2" width="1.1" height="33.8" fill="#ef5350"/>
<rect x="433.9" y="320.9" width="4.2" height="25.2" fill="#ef5350"/>
<rect x="440.95" y="344.2" width="1.1" height="49.4" fill="#ef5350"/>
<rect x="439.4" y="345.2" width="4.2" height="16.9" fill="#ef5350"/>
<rect x="446.45" y="361.5" width="1.1" height="18.8" fill="#ef5350"/>
<rect x="444.9" y="362.1" width="4.2" height="6.5" fill="#ef5350"/>
<rect x="451.95" y="366.3" width="1.1" height="17.5" fill="#ef5350"/>
<rect x="450.4" y="369" width="4.2" height="5.1" fill="#ef5350"/>
<rect x="457.45" y="355.3" width="1.1" height="19.7" fill="#26a69a"/>
<rect x="456.2" y="371.8" width="3.6" height="2.4" fill="#26a69a" stroke="#7b7f8c" stroke-width="0.6" stroke-opacity="0.85"/>
<rect x="462.95" y="359.4" width="1.1" height="36.1" fill="#ef5350"/>
<rect x="461.4" y="371.1" width="4.2" height="23.7" fill="#ef5350"/>
<rect x="468.45" y="392.4" width="1.1" height="84.2" fill="#ef5350"/>
<rect x="466.9" y="394.6" width="4.2" height="51.1" fill="#ef5350"/>
<rect x="473.95" y="433.2" width="1.1" height="21.9" fill="#26a69a"/>
<rect x="472.7" y="442.4" width="3.6" height="3" fill="#26a69a" stroke="#7b7f8c" stroke-width="0.6" stroke-opacity="0.85"/>
<rect x="479.45" y="437.1" width="1.1" height="28.7" fill="#ef5350"/>
<rect x="477.9" y="441.6" width="4.2" height="17" fill="#ef5350"/>
<rect x="484.95" y="427.9" width="1.1" height="33" fill="#26a69a"/>
<rect x="483.7" y="443.8" width="3.6" height="14.5" fill="#26a69a" stroke="#7b7f8c" stroke-width="0.6" stroke-opacity="0.85"/>
<rect x="490.45" y="435.2" width="1.1" height="27.3" fill="#ef5350"/>
<rect x="488.9" y="442.35" width="4.2" height="1.5" fill="#ef5350"/>
<rect x="495.95" y="412.8" width="1.1" height="31.4" fill="#26a69a"/>
<rect x="494.7" y="427.6" width="3.6" height="15.6" fill="#26a69a" stroke="#7b7f8c" stroke-width="0.6" stroke-opacity="0.85"/>
<rect x="501.45" y="409.9" width="1.1" height="34.4" fill="#26a69a"/>
<rect x="500.2" y="421.8" width="3.6" height="5" fill="#26a69a" stroke="#7b7f8c" stroke-width="0.6" stroke-opacity="0.85"/>
<rect x="506.95" y="418.2" width="1.1" height="10.5" fill="#ef5350"/>
<rect x="505.4" y="420.85" width="4.2" height="1.5" fill="#ef5350"/>
<rect x="512.45" y="406.9" width="1.1" height="19.6" fill="#26a69a"/>
<rect x="511.2" y="413.2" width="3.6" height="8.3" fill="#26a69a" stroke="#7b7f8c" stroke-width="0.6" stroke-opacity="0.85"/>
<rect x="517.95" y="405.2" width="1.1" height="38.6" fill="#ef5350"/>
<rect x="516.4" y="412.8" width="4.2" height="24.1" fill="#ef5350"/>
<rect x="523.45" y="433.3" width="1.1" height="23.2" fill="#ef5350"/>
<rect x="521.9" y="436.9" width="4.2" height="19.2" fill="#ef5350"/>
<rect x="528.95" y="445.9" width="1.1" height="11.1" fill="#26a69a"/>
<rect x="527.7" y="452.4" width="3.6" height="3.4" fill="#26a69a" stroke="#7b7f8c" stroke-width="0.6" stroke-opacity="0.85"/>
<rect x="534.45" y="433.5" width="1.1" height="33.3" fill="#26a69a"/>
<rect x="533.2" y="434.3" width="3.6" height="17.2" fill="#26a69a" stroke="#7b7f8c" stroke-width="0.6" stroke-opacity="0.85"/>
<rect x="539.95" y="425.5" width="1.1" height="33" fill="#ef5350"/>
<rect x="538.4" y="434" width="4.2" height="24" fill="#ef5350"/>
<rect x="545.45" y="452.1" width="1.1" height="18.6" fill="#ef5350"/>
<rect x="543.9" y="457.6" width="4.2" height="6.7" fill="#ef5350"/>
<rect x="550.95" y="448.2" width="1.1" height="18.6" fill="#26a69a"/>
<rect x="549.7" y="461.6" width="3.6" height="2.4" fill="#26a69a" stroke="#7b7f8c" stroke-width="0.6" stroke-opacity="0.85"/>
<rect x="556.45" y="447.3" width="1.1" height="15" fill="#26a69a"/>
<rect x="555.2" y="457.7" width="3.6" height="3.3" fill="#26a69a" stroke="#7b7f8c" stroke-width="0.6" stroke-opacity="0.85"/>
<rect x="561.95" y="452.1" width="1.1" height="18" fill="#ef5350"/>
<rect x="560.4" y="457.4" width="4.2" height="1.6" fill="#ef5350"/>
<rect x="567.45" y="454.1" width="1.1" height="11.3" fill="#26a69a"/>
<rect x="566.2" y="456.4" width="3.6" height="2.3" fill="#26a69a" stroke="#7b7f8c" stroke-width="0.6" stroke-opacity="0.85"/>
<rect x="572.95" y="441" width="1.1" height="18.6" fill="#26a69a"/>
<rect x="571.7" y="445.6" width="3.6" height="10.2" fill="#26a69a" stroke="#7b7f8c" stroke-width="0.6" stroke-opacity="0.85"/>
<rect x="578.45" y="437.1" width="1.1" height="13.7" fill="#26a69a"/>
<rect x="577.2" y="443.1" width="3.6" height="2.3" fill="#26a69a" stroke="#7b7f8c" stroke-width="0.6" stroke-opacity="0.85"/>
<rect x="583.95" y="441" width="1.1" height="60" fill="#ef5350"/>
<rect x="582.4" y="442.4" width="4.2" height="49.8" fill="#ef5350"/>
<rect x="589.45" y="481.8" width="1.1" height="16.2" fill="#ef5350"/>
<rect x="587.9" y="491.15" width="4.2" height="1.5" fill="#ef5350"/>
<rect x="594.95" y="486.3" width="1.1" height="16.2" fill="#26a69a"/>
<rect x="593.7" y="490.5" width="3.6" height="2" fill="#26a69a" stroke="#7b7f8c" stroke-width="0.6" stroke-opacity="0.85"/>
<rect x="600.45" y="480.1" width="1.1" height="16" fill="#26a69a"/>
<rect x="599.2" y="483.1" width="3.6" height="7.2" fill="#26a69a" stroke="#7b7f8c" stroke-width="0.6" stroke-opacity="0.85"/>
<rect x="605.95" y="479.1" width="1.1" height="8.6" fill="#ef5350"/>
<rect x="604.4" y="481.35" width="4.2" height="1.5" fill="#ef5350"/>
<rect x="611.45" y="468.2" width="1.1" height="21.1" fill="#ef5350"/>
<rect x="609.9" y="482.8" width="4.2" height="4.5" fill="#ef5350"/>
<rect x="616.95" y="483" width="1.1" height="9.8" fill="#26a69a"/>
<rect x="615.7" y="486" width="3.6" height="1" fill="#26a69a" stroke="#7b7f8c" stroke-width="0.6" stroke-opacity="0.85"/>
<rect x="622.45" y="484.4" width="1.1" height="7.4" fill="#ef5350"/>
<rect x="620.9" y="485.7" width="4.2" height="3.2" fill="#ef5350"/>
<rect x="627.95" y="481.8" width="1.1" height="7.5" fill="#26a69a"/>
<rect x="626.7" y="482.7" width="3.6" height="5.7" fill="#26a69a" stroke="#7b7f8c" stroke-width="0.6" stroke-opacity="0.85"/>
<rect x="633.45" y="439.1" width="1.1" height="43.9" fill="#26a69a"/>
<rect x="632.2" y="443.1" width="3.6" height="39" fill="#26a69a" stroke="#7b7f8c" stroke-width="0.6" stroke-opacity="0.85"/>
<rect x="638.95" y="420.3" width="1.1" height="27" fill="#26a69a"/>
<rect x="637.7" y="426.7" width="3.6" height="15.8" fill="#26a69a" stroke="#7b7f8c" stroke-width="0.6" stroke-opacity="0.85"/>
<rect x="644.45" y="415" width="1.1" height="14.7" fill="#26a69a"/>
<rect x="643.2" y="417.7" width="3.6" height="8.4" fill="#26a69a" stroke="#7b7f8c" stroke-width="0.6" stroke-opacity="0.85"/>
<rect x="649.95" y="413.1" width="1.1" height="14.6" fill="#ef5350"/>
<rect x="648.4" y="417.4" width="4.2" height="6.8" fill="#ef5350"/>
<rect x="655.45" y="419.9" width="1.1" height="18" fill="#ef5350"/>
<rect x="653.9" y="423.8" width="4.2" height="11.2" fill="#ef5350"/>
<rect x="660.95" y="404.9" width="1.1" height="33.6" fill="#26a69a"/>
<rect x="659.7" y="413" width="3.6" height="21.3" fill="#26a69a" stroke="#7b7f8c" stroke-width="0.6" stroke-opacity="0.85"/>
<rect x="666.45" y="404.9" width="1.1" height="20.9" fill="#ef5350"/>
<rect x="664.9" y="412.7" width="4.2" height="6.8" fill="#ef5350"/>
<rect x="671.95" y="415" width="1.1" height="17.6" fill="#ef5350"/>
<rect x="670.4" y="419.3" width="4.2" height="9.8" fill="#ef5350"/>
<rect x="677.45" y="427.3" width="1.1" height="28.4" fill="#ef5350"/>
<rect x="675.9" y="429.1" width="4.2" height="3.9" fill="#ef5350"/>
<rect x="682.95" y="381.8" width="1.1" height="52.4" fill="#26a69a"/>
<rect x="681.7" y="384.7" width="3.6" height="48" fill="#26a69a" stroke="#7b7f8c" stroke-width="0.6" stroke-opacity="0.85"/>
<rect x="688.45" y="378.3" width="1.1" height="16.2" fill="#ef5350"/>
<rect x="686.9" y="383.35" width="4.2" height="1.5" fill="#ef5350"/>
<rect x="693.95" y="376.3" width="1.1" height="19.2" fill="#26a69a"/>
<rect x="692.7" y="383.6" width="3.6" height="0.9" fill="#26a69a" stroke="#7b7f8c" stroke-width="0.6" stroke-opacity="0.85"/>
<rect x="699.45" y="378.9" width="1.1" height="11.2" fill="#26a69a"/>
<rect x="698.2" y="382.95" width="3.6" height="0.9" fill="#26a69a" stroke="#7b7f8c" stroke-width="0.6" stroke-opacity="0.85"/>
<rect x="704.95" y="364.2" width="1.1" height="19" fill="#26a69a"/>
<rect x="703.7" y="369" width="3.6" height="13" fill="#26a69a" stroke="#7b7f8c" stroke-width="0.6" stroke-opacity="0.85"/>
<rect x="710.45" y="367.7" width="1.1" height="22.9" fill="#ef5350"/>
<rect x="708.9" y="368.7" width="4.2" height="18.6" fill="#ef5350"/>
<rect x="715.95" y="370.1" width="1.1" height="22" fill="#26a69a"/>
<rect x="714.7" y="376.6" width="3.6" height="10.3" fill="#26a69a" stroke="#7b7f8c" stroke-width="0.6" stroke-opacity="0.85"/>
<rect x="721.45" y="371.6" width="1.1" height="15.4" fill="#ef5350"/>
<rect x="719.9" y="376.3" width="4.2" height="5.3" fill="#ef5350"/>
<rect x="726.95" y="380.2" width="1.1" height="20.2" fill="#ef5350"/>
<rect x="725.4" y="381.4" width="4.2" height="11.1" fill="#ef5350"/>
<rect x="732.45" y="387" width="1.1" height="9.1" fill="#ef5350"/>
<rect x="730.9" y="392.5" width="4.2" height="1.6" fill="#ef5350"/>
<rect x="737.95" y="382.2" width="1.1" height="17.8" fill="#26a69a"/>
<rect x="736.7" y="384.4" width="3.6" height="8.8" fill="#26a69a" stroke="#7b7f8c" stroke-width="0.6" stroke-opacity="0.85"/>
<rect x="743.45" y="381.2" width="1.1" height="13.7" fill="#ef5350"/>
<rect x="741.9" y="384.1" width="4.2" height="6.5" fill="#ef5350"/>
<rect x="748.95" y="388.6" width="1.1" height="15.7" fill="#ef5350"/>
<rect x="747.4" y="390.6" width="4.2" height="9.2" fill="#ef5350"/>
<rect x="754.45" y="392.9" width="1.1" height="15.7" fill="#26a69a"/>
<rect x="753.2" y="397.3" width="3.6" height="2.2" fill="#26a69a" stroke="#7b7f8c" stroke-width="0.6" stroke-opacity="0.85"/>
<rect x="759.95" y="361.7" width="1.1" height="35.5" fill="#26a69a"/>
<rect x="758.7" y="368" width="3.6" height="28.1" fill="#26a69a" stroke="#7b7f8c" stroke-width="0.6" stroke-opacity="0.85"/>
<rect x="765.45" y="362.3" width="1.1" height="11.7" fill="#26a69a"/>
<rect x="764.2" y="366.8" width="3.6" height="0.9" fill="#26a69a" stroke="#7b7f8c" stroke-width="0.6" stroke-opacity="0.85"/>
<rect x="770.95" y="360.9" width="1.1" height="11.7" fill="#ef5350"/>
<rect x="769.4" y="366.8" width="4.2" height="2.9" fill="#ef5350"/>
<rect x="776.45" y="358.9" width="1.1" height="12.2" fill="#26a69a"/>
<rect x="775.2" y="368.75" width="3.6" height="0.9" fill="#26a69a" stroke="#7b7f8c" stroke-width="0.6" stroke-opacity="0.85"/>
<rect x="781.95" y="367.5" width="1.1" height="6.1" fill="#ef5350"/>
<rect x="780.4" y="368.85" width="4.2" height="1.5" fill="#ef5350"/>
<rect x="787.45" y="369.3" width="1.1" height="9.2" fill="#ef5350"/>
<rect x="785.9" y="370.1" width="4.2" height="5.4" fill="#ef5350"/>
<rect x="792.95" y="370.1" width="1.1" height="9.7" fill="#ef5350"/>
<rect x="791.4" y="375.2" width="4.2" height="1.5" fill="#ef5350"/>
<rect x="798.45" y="369.1" width="1.1" height="10.2" fill="#26a69a"/>
<rect x="797.2" y="375.5" width="3.6" height="0.9" fill="#26a69a" stroke="#7b7f8c" stroke-width="0.6" stroke-opacity="0.85"/>
<rect x="803.95" y="372.4" width="1.1" height="33.2" fill="#ef5350"/>
<rect x="802.4" y="375.4" width="4.2" height="22.4" fill="#ef5350"/>
<rect x="809.45" y="392.1" width="1.1" height="12.5" fill="#ef5350"/>
<rect x="807.9" y="396.75" width="4.2" height="1.5" fill="#ef5350"/>
<rect x="814.95" y="384.1" width="1.1" height="20.2" fill="#ef5350"/>
<rect x="813.4" y="397.95" width="4.2" height="1.5" fill="#ef5350"/>
<rect x="820.45" y="396.1" width="1.1" height="7.8" fill="#ef5350"/>
<rect x="818.9" y="399.3" width="4.2" height="1.5" fill="#ef5350"/>
<rect x="825.95" y="392.1" width="1.1" height="15.7" fill="#26a69a"/>
<rect x="824.7" y="396.4" width="3.6" height="3.7" fill="#26a69a" stroke="#7b7f8c" stroke-width="0.6" stroke-opacity="0.85"/>
<rect x="831.45" y="388.2" width="1.1" height="10.2" fill="#ef5350"/>
<rect x="829.9" y="395.5" width="4.2" height="2.3" fill="#ef5350"/>
<rect x="836.95" y="383.7" width="1.1" height="15.1" fill="#26a69a"/>
<rect x="835.7" y="385" width="3.6" height="12.5" fill="#26a69a" stroke="#7b7f8c" stroke-width="0.6" stroke-opacity="0.85"/>
<rect x="842.45" y="380.2" width="1.1" height="10" fill="#ef5350"/>
<rect x="840.9" y="383.85" width="4.2" height="1.5" fill="#ef5350"/>
<rect x="847.95" y="383.4" width="1.1" height="11.7" fill="#ef5350"/>
<rect x="846.4" y="384.7" width="4.2" height="5.9" fill="#ef5350"/>
<rect x="853.45" y="368.5" width="1.1" height="22.7" fill="#26a69a"/>
<rect x="852.2" y="371.7" width="3.6" height="18.6" fill="#26a69a" stroke="#7b7f8c" stroke-width="0.6" stroke-opacity="0.85"/>
<rect x="858.95" y="338.4" width="1.1" height="32.7" fill="#26a69a"/>
<rect x="857.7" y="343" width="3.6" height="27.4" fill="#26a69a" stroke="#7b7f8c" stroke-width="0.6" stroke-opacity="0.85"/>
<rect x="864.45" y="334.5" width="1.1" height="11.2" fill="#26a69a"/>
<rect x="863.2" y="340.7" width="3.6" height="1.7" fill="#26a69a" stroke="#7b7f8c" stroke-width="0.6" stroke-opacity="0.85"/>
<rect x="869.95" y="324.2" width="1.1" height="17.9" fill="#26a69a"/>
<rect x="868.7" y="329" width="3.6" height="10.9" fill="#26a69a" stroke="#7b7f8c" stroke-width="0.6" stroke-opacity="0.85"/>
<rect x="875.45" y="323.6" width="1.1" height="17.6" fill="#26a69a"/>
<rect x="874.2" y="327" width="3.6" height="1.4" fill="#26a69a" stroke="#7b7f8c" stroke-width="0.6" stroke-opacity="0.85"/>
<rect x="880.95" y="321.3" width="1.1" height="15.2" fill="#26a69a"/>
<rect x="879.7" y="325.75" width="3.6" height="0.9" fill="#26a69a" stroke="#7b7f8c" stroke-width="0.6" stroke-opacity="0.85"/>
<rect x="886.45" y="312.1" width="1.1" height="17.9" fill="#26a69a"/>
<rect x="885.2" y="313.7" width="3.6" height="12.5" fill="#26a69a" stroke="#7b7f8c" stroke-width="0.6" stroke-opacity="0.85"/>
<rect x="891.95" y="290.8" width="1.1" height="23" fill="#26a69a"/>
<rect x="890.7" y="295.5" width="3.6" height="17.6" fill="#26a69a" stroke="#7b7f8c" stroke-width="0.6" stroke-opacity="0.85"/>
<rect x="897.45" y="294.6" width="1.1" height="17.2" fill="#ef5350"/>
<rect x="895.9" y="295.2" width="4.2" height="11.7" fill="#ef5350"/>
<rect x="902.95" y="292.3" width="1.1" height="18.7" fill="#26a69a"/>
<rect x="901.7" y="299.2" width="3.6" height="7" fill="#26a69a" stroke="#7b7f8c" stroke-width="0.6" stroke-opacity="0.85"/>
<rect x="908.45" y="295.2" width="1.1" height="11.2" fill="#ef5350"/>
<rect x="906.9" y="298.9" width="4.2" height="3.6" fill="#ef5350"/>
<rect x="913.95" y="285.4" width="1.1" height="24" fill="#26a69a"/>
<rect x="912.7" y="295.1" width="3.6" height="6.8" fill="#26a69a" stroke="#7b7f8c" stroke-width="0.6" stroke-opacity="0.85"/>
<rect x="919.45" y="273.2" width="1.1" height="32.8" fill="#ef5350"/>
<rect x="917.9" y="294.8" width="4.2" height="10.1" fill="#ef5350"/>
<rect x="924.95" y="296.2" width="1.1" height="15.7" fill="#ef5350"/>
<rect x="923.4" y="303.75" width="4.2" height="1.5" fill="#ef5350"/>
<rect x="930.45" y="300.1" width="1.1" height="20.6" fill="#26a69a"/>
<rect x="929.2" y="303.6" width="3.6" height="1.6" fill="#26a69a" stroke="#7b7f8c" stroke-width="0.6" stroke-opacity="0.85"/>
<rect x="935.95" y="294.8" width="1.1" height="9.5" fill="#26a69a"/>
<rect x="934.7" y="301.9" width="3.6" height="1.6" fill="#26a69a" stroke="#7b7f8c" stroke-width="0.6" stroke-opacity="0.85"/>
<rect x="941.45" y="274.6" width="1.1" height="27.5" fill="#26a69a"/>
<rect x="940.2" y="275.9" width="3.6" height="25.3" fill="#26a69a" stroke="#7b7f8c" stroke-width="0.6" stroke-opacity="0.85"/>
<rect x="946.95" y="257.6" width="1.1" height="20.3" fill="#26a69a"/>
<rect x="945.7" y="260.7" width="3.6" height="14.6" fill="#26a69a" stroke="#7b7f8c" stroke-width="0.6" stroke-opacity="0.85"/>
<rect x="952.45" y="257" width="1.1" height="9.8" fill="#ef5350"/>
<rect x="950.9" y="260" width="4.2" height="2.3" fill="#ef5350"/>
<rect x="957.95" y="219.5" width="1.1" height="45.7" fill="#26a69a"/>
<rect x="956.7" y="222.8" width="3.6" height="38.8" fill="#26a69a" stroke="#7b7f8c" stroke-width="0.6" stroke-opacity="0.85"/>
<rect x="963.45" y="201" width="1.1" height="34.2" fill="#26a69a"/>
<rect x="962.2" y="204.6" width="3.6" height="17.6" fill="#26a69a" stroke="#7b7f8c" stroke-width="0.6" stroke-opacity="0.85"/>
<rect x="968.95" y="191.6" width="1.1" height="26.8" fill="#ef5350"/>
<rect x="967.4" y="204.3" width="4.2" height="2" fill="#ef5350"/>
<rect x="974.45" y="204.9" width="1.1" height="25.2" fill="#ef5350"/>
<rect x="972.9" y="205.7" width="4.2" height="4.8" fill="#ef5350"/>
<rect x="979.95" y="196.5" width="1.1" height="15.6" fill="#26a69a"/>
<rect x="978.7" y="198.3" width="3.6" height="11.6" fill="#26a69a" stroke="#7b7f8c" stroke-width="0.6" stroke-opacity="0.85"/>
<rect x="985.45" y="197" width="1.1" height="21" fill="#ef5350"/>
<rect x="983.9" y="198" width="4.2" height="6.3" fill="#ef5350"/>
<rect x="990.95" y="193.9" width="1.1" height="36.8" fill="#ef5350"/>
<rect x="989.4" y="203.9" width="4.2" height="11.1" fill="#ef5350"/>
<rect x="996.45" y="210.7" width="1.1" height="23.3" fill="#ef5350"/>
<rect x="994.9" y="214.6" width="4.2" height="2.4" fill="#ef5350"/>
<rect x="1001.95" y="209.2" width="1.1" height="15.6" fill="#ef5350"/>
<rect x="1000.4" y="217" width="4.2" height="5.9" fill="#ef5350"/>
<rect x="1007.45" y="216.6" width="1.1" height="27.3" fill="#26a69a"/>
<rect x="1006.2" y="219.8" width="3.6" height="2.4" fill="#26a69a" stroke="#7b7f8c" stroke-width="0.6" stroke-opacity="0.85"/>
<rect x="1012.95" y="215" width="1.1" height="17.2" fill="#ef5350"/>
<rect x="1011.4" y="219.3" width="4.2" height="8.4" fill="#ef5350"/>
<rect x="1018.45" y="208.2" width="1.1" height="21.9" fill="#26a69a"/>
<rect x="1017.2" y="213" width="3.6" height="14.4" fill="#26a69a" stroke="#7b7f8c" stroke-width="0.6" stroke-opacity="0.85"/>
<rect x="1023.95" y="195.5" width="1.1" height="17.8" fill="#26a69a"/>
<rect x="1022.7" y="206.6" width="3.6" height="5.8" fill="#26a69a" stroke="#7b7f8c" stroke-width="0.6" stroke-opacity="0.85"/>
<rect x="1029.45" y="199.4" width="1.1" height="11.7" fill="#ef5350"/>
<rect x="1027.9" y="205.9" width="4.2" height="2.7" fill="#ef5350"/>
<rect x="1034.95" y="195.5" width="1.1" height="13.3" fill="#26a69a"/>
<rect x="1033.7" y="203.6" width="3.6" height="4.3" fill="#26a69a" stroke="#7b7f8c" stroke-width="0.6" stroke-opacity="0.85"/>
<rect x="1040.45" y="201.4" width="1.1" height="15" fill="#ef5350"/>
<rect x="1038.9" y="202.9" width="4.2" height="8.6" fill="#ef5350"/>
<rect x="1045.95" y="209.2" width="1.1" height="13.7" fill="#ef5350"/>
<rect x="1044.4" y="211.1" width="4.2" height="11.2" fill="#ef5350"/>
<rect x="1051.45" y="221.3" width="1.1" height="16.8" fill="#ef5350"/>
<rect x="1049.9" y="221.9" width="4.2" height="1.5" fill="#ef5350"/>
<rect x="1056.95" y="219.9" width="1.1" height="35.6" fill="#ef5350"/>
<rect x="1055.4" y="223.4" width="4.2" height="23.9" fill="#ef5350"/>
<rect x="1062.45" y="227.3" width="1.1" height="24.5" fill="#26a69a"/>
<rect x="1061.2" y="230.6" width="3.6" height="16" fill="#26a69a" stroke="#7b7f8c" stroke-width="0.6" stroke-opacity="0.85"/>
<rect x="1067.95" y="205.9" width="1.1" height="24.7" fill="#26a69a"/>
<rect x="1066.7" y="207.5" width="3.6" height="22.3" fill="#26a69a" stroke="#7b7f8c" stroke-width="0.6" stroke-opacity="0.85"/>
<rect x="1073.45" y="202.7" width="1.1" height="18.8" fill="#26a69a"/>
<rect x="1072.2" y="205.9" width="3.6" height="0.9" fill="#26a69a" stroke="#7b7f8c" stroke-width="0.6" stroke-opacity="0.85"/>
<rect x="1078.95" y="201" width="1.1" height="41.4" fill="#ef5350"/>
<rect x="1077.4" y="207.2" width="4.2" height="31.9" fill="#ef5350"/>
<rect x="1084.45" y="223.8" width="1.1" height="48.9" fill="#26a69a"/>
<rect x="1083.2" y="237.2" width="3.6" height="1.4" fill="#26a69a" stroke="#7b7f8c" stroke-width="0.6" stroke-opacity="0.85"/>
<rect x="1089.95" y="226.2" width="1.1" height="19.7" fill="#ef5350"/>
<rect x="1088.4" y="236.5" width="4.2" height="1.6" fill="#ef5350"/>
<rect x="1095.45" y="216" width="1.1" height="24" fill="#26a69a"/>
<rect x="1094.2" y="219.6" width="3.6" height="18" fill="#26a69a" stroke="#7b7f8c" stroke-width="0.6" stroke-opacity="0.85"/>
<rect x="1100.95" y="218" width="1.1" height="24.8" fill="#ef5350"/>
<rect x="1099.4" y="218.9" width="4.2" height="23.1" fill="#ef5350"/>
<rect x="1106.45" y="232.6" width="1.1" height="26" fill="#ef5350"/>
<rect x="1104.9" y="242" width="4.2" height="8.6" fill="#ef5350"/>
<rect x="1111.95" y="230.3" width="1.1" height="20.7" fill="#26a69a"/>
<rect x="1110.7" y="236.2" width="3.6" height="13.7" fill="#26a69a" stroke="#7b7f8c" stroke-width="0.6" stroke-opacity="0.85"/>
<rect x="1117.45" y="219.3" width="1.1" height="21.5" fill="#26a69a"/>
<rect x="1116.2" y="221.6" width="3.6" height="13.6" fill="#26a69a" stroke="#7b7f8c" stroke-width="0.6" stroke-opacity="0.85"/>
<rect x="1122.95" y="211.7" width="1.1" height="12.1" fill="#26a69a"/>
<rect x="1121.7" y="215.3" width="3.6" height="5.7" fill="#26a69a" stroke="#7b7f8c" stroke-width="0.6" stroke-opacity="0.85"/>
<rect x="1128.45" y="214.4" width="1.1" height="18.6" fill="#ef5350"/>
<rect x="1126.9" y="215" width="4.2" height="8.2" fill="#ef5350"/>
<rect x="1133.95" y="218" width="1.1" height="17.9" fill="#26a69a"/>
<rect x="1132.7" y="222.4" width="3.6" height="0.9" fill="#26a69a" stroke="#7b7f8c" stroke-width="0.6" stroke-opacity="0.85"/>
<rect x="1139.45" y="202.8" width="1.1" height="21" fill="#26a69a"/>
<rect x="1138.2" y="205.2" width="3.6" height="17.4" fill="#26a69a" stroke="#7b7f8c" stroke-width="0.6" stroke-opacity="0.85"/>
<rect x="1144.95" y="203.4" width="1.1" height="11.8" fill="#ef5350"/>
<rect x="1143.4" y="204.4" width="4.2" height="3.2" fill="#ef5350"/>
<rect x="1150.45" y="192" width="1.1" height="16.5" fill="#26a69a"/>
<rect x="1149.2" y="206.1" width="3.6" height="0.9" fill="#26a69a" stroke="#7b7f8c" stroke-width="0.6" stroke-opacity="0.85"/>
<rect x="1155.95" y="171.6" width="1.1" height="38.9" fill="#26a69a"/>
<rect x="1154.7" y="174.4" width="3.6" height="30.8" fill="#26a69a" stroke="#7b7f8c" stroke-width="0.6" stroke-opacity="0.85"/>
<rect x="1161.45" y="144.3" width="1.1" height="30.2" fill="#26a69a"/>
<rect x="1160.2" y="152.7" width="3.6" height="20.9" fill="#26a69a" stroke="#7b7f8c" stroke-width="0.6" stroke-opacity="0.85"/>
<rect x="1166.95" y="131.3" width="1.1" height="21.4" fill="#26a69a"/>
<rect x="1165.7" y="135.3" width="3.6" height="16.5" fill="#26a69a" stroke="#7b7f8c" stroke-width="0.6" stroke-opacity="0.85"/>
<rect x="1172.45" y="133" width="1.1" height="16.1" fill="#ef5350"/>
<rect x="1170.9" y="134.7" width="4.2" height="2" fill="#ef5350"/>
<rect x="1177.95" y="122" width="1.1" height="27.9" fill="#26a69a"/>
<rect x="1176.7" y="129.1" width="3.6" height="6.6" fill="#26a69a" stroke="#7b7f8c" stroke-width="0.6" stroke-opacity="0.85"/>
<rect x="1183.45" y="120" width="1.1" height="22.3" fill="#26a69a"/>
<rect x="1182.2" y="122.3" width="3.6" height="5.8" fill="#26a69a" stroke="#7b7f8c" stroke-width="0.6" stroke-opacity="0.85"/>
<rect x="1188.95" y="114.9" width="1.1" height="31.3" fill="#ef5350"/>
<rect x="1187.4" y="122" width="4.2" height="18.6" fill="#ef5350"/>
<rect x="1194.45" y="130.5" width="1.1" height="15.2" fill="#ef5350"/>
<rect x="1192.9" y="140.6" width="4.2" height="3" fill="#ef5350"/>
<rect x="1199.95" y="132.5" width="1.1" height="15.7" fill="#26a69a"/>
<rect x="1198.7" y="134.5" width="3.6" height="8.8" fill="#26a69a" stroke="#7b7f8c" stroke-width="0.6" stroke-opacity="0.85"/>
<rect x="1205.45" y="125.4" width="1.1" height="23.7" fill="#ef5350"/>
<rect x="1203.9" y="134.2" width="4.2" height="7.6" fill="#ef5350"/>
<rect x="1210.95" y="117.8" width="1.1" height="35.2" fill="#26a69a"/>
<rect x="1209.7" y="128.6" width="3.6" height="12.5" fill="#26a69a" stroke="#7b7f8c" stroke-width="0.6" stroke-opacity="0.85"/>
<rect x="1216.45" y="112.2" width="1.1" height="18.8" fill="#26a69a"/>
<rect x="1215.2" y="125.7" width="3.6" height="1.9" fill="#26a69a" stroke="#7b7f8c" stroke-width="0.6" stroke-opacity="0.85"/>
<rect x="1221.95" y="118.3" width="1.1" height="19.8" fill="#ef5350"/>
<rect x="1220.4" y="125.4" width="4.2" height="9.6" fill="#ef5350"/>
<rect x="1227.45" y="125.9" width="1.1" height="22.8" fill="#ef5350"/>
<rect x="1225.9" y="135.2" width="4.2" height="2.4" fill="#ef5350"/>
<rect x="1232.95" y="133.6" width="1.1" height="7.45" fill="#ef5350"/>
<rect x="1231.4" y="137.13" width="4.2" height="1.5" fill="#ef5350"/>
</g>
<line x1="952.5" y1="189.2" x2="1173.5" y2="210.1" stroke="#131722" stroke-width="2.2" stroke-linecap="round"/>
<line x1="961.2" y1="236" x2="1162.5" y2="267.3" stroke="#131722" stroke-width="2.2" stroke-linecap="round"/>
<defs><linearGradient id="gob" gradientUnits="userSpaceOnUse" x1="0" y1="572.7" x2="0" y2="598.88"><stop offset="0" stop-color="#4caf50" stop-opacity="1"/><stop offset="1" stop-color="#4caf50" stop-opacity="0.08"/></linearGradient>
<linearGradient id="gos" gradientUnits="userSpaceOnUse" x1="0" y1="633.77" x2="0" y2="659.95"><stop offset="0" stop-color="#f23645" stop-opacity="0"/><stop offset="1" stop-color="#f23645" stop-opacity="1"/></linearGradient>
<clipPath id="cob"><rect x="10" y="573" width="1440" height="25.88"/></clipPath><clipPath id="cos"><rect x="10" y="633.77" width="1440" height="8.23"/></clipPath></defs>
<rect x="10.5" y="598.88" width="1439" height="34.9" fill="#7e57c2" fill-opacity="0.1"/>
<polygon points="10.5,598.88 10.5,592.55 12.5,590.76 18,585.79 23.5,587.62 29,585.71 34.5,587.37 40,582.29 45.5,580.37 51,577.79 56.5,576.68 62,584.83 67.5,594.9 73,594.22 78.5,589.95 84,585.34 89.5,582.77 95,600.92 100.5,597.93 106,594.44 111.5,596.26 117,598.13 122.5,596.98 128,596.13 133.5,600.98 139,608.79 144.5,604.07 150,603.08 155.5,613.82 161,621.52 166.5,620.75 172,620.62 177.5,618.15 183,620.53 188.5,621.14 194,620.64 199.5,621.44 205,623.36 210.5,619.71 216,615.45 221.5,612.08 227,609.57 232.5,607.9 238,608.43 243.5,606.03 249,612.6 254.5,611.49 260,615.68 265.5,611.18 271,606.33 276.5,602.1 282,602.79 287.5,602.56 293,601.27 298.5,599.87 304,608.22 309.5,609.79 315,617.54 320.5,616.89 326,619.86 331.5,616.03 337,619.07 342.5,623.53 348,622.21 353.5,627.16 359,625.42 364.5,620.78 370,621.13 375.5,624.03 381,624.53 386.5,623.67 392,624.24 397.5,619.7 403,613.68 408.5,614.22 414,618.85 419.5,621.29 425,621.59 430.5,622.49 436,626.91 441.5,629.16 447,630 452.5,630.7 458,630.02 463.5,632.93 469,637.26 474.5,636.57 480,637.7 485.5,634.74 491,634.77 496.5,631.13 502,629.79 507.5,629.89 513,627.46 518.5,630.75 524,632.88 529.5,631.95 535,627.58 540.5,630.62 546,631.33 551.5,630.62 557,629.64 562.5,629.86 568,629.04 573.5,625.87 579,625.1 584.5,632.55 590,632.59 595.5,631.96 601,629.91 606.5,629.91 612,630.63 617.5,630.11 623,630.68 628.5,628.35 634,615.61 639.5,611.11 645,608.73 650.5,611.2 656,614.77 661.5,608.73 667,611.12 672.5,614.24 678,615.44 683.5,603.33 689,603.41 694.5,603.13 700,602.95 705.5,599.54 711,607.86 716.5,605.07 722,607.27 727.5,611.4 733,611.98 738.5,609.01 744,611.59 749.5,614.93 755,614.01 760.5,605.32 766,605.08 771.5,606.46 777,606.15 782.5,606.88 788,609.68 793.5,610.19 799,609.74 804.5,619.76 810,619.83 815.5,620.37 821,620.89 826.5,618.57 832,619.36 837.5,612.87 843,613.09 848.5,616.1 854,607.43 859.5,598.19 865,597.57 870.5,594.57 876,594.08 881.5,593.82 887,590.83 892.5,587.27 898,596.08 903.5,594.18 909,596.7 914.5,594.74 920,601.46 925.5,601.52 931,600.96 936.5,600.38 942,593.02 947.5,589.84 953,591.33 958.5,584.88 964,582.87 969.5,584.41 975,587.61 980.5,585.79 986,590.46 991.5,597.36 997,598.55 1002.5,601.98 1008,601.01 1013.5,605.65 1019,601.16 1024.5,599.39 1030,600.83 1035.5,599.25 1041,604.39 1046.5,610.09 1052,610.63 1057.5,620.1 1063,614.12 1068.5,607.09 1074,606.72 1079.5,618.19 1085,617.55 1090.5,617.9 1096,612.2 1101.5,618.87 1107,620.93 1112.5,616.8 1118,612.85 1123.5,611.16 1129,613.86 1134.5,613.66 1140,608.59 1145.5,609.66 1151,609.12 1156.5,600.66 1162,596.08 1167.5,592.93 1173,593.9 1178.5,592.44 1184,591.22 1189.5,601.58 1195,603 1200.5,600.67 1206,604.4 1211.5,600.95 1217,600.23 1222.5,605.14 1228,606.38 1233.5,606.59 1233.5,598.88" fill="url(#gob)" clip-path="url(#cob)"/>
<polygon points="10.5,633.77 10.5,592.55 12.5,590.76 18,585.79 23.5,587.62 29,585.71 34.5,587.37 40,582.29 45.5,580.37 51,577.79 56.5,576.68 62,584.83 67.5,594.9 73,594.22 78.5,589.95 84,585.34 89.5,582.77 95,600.92 100.5,597.93 106,594.44 111.5,596.26 117,598.13 122.5,596.98 128,596.13 133.5,600.98 139,608.79 144.5,604.07 150,603.08 155.5,613.82 161,621.52 166.5,620.75 172,620.62 177.5,618.15 183,620.53 188.5,621.14 194,620.64 199.5,621.44 205,623.36 210.5,619.71 216,615.45 221.5,612.08 227,609.57 232.5,607.9 238,608.43 243.5,606.03 249,612.6 254.5,611.49 260,615.68 265.5,611.18 271,606.33 276.5,602.1 282,602.79 287.5,602.56 293,601.27 298.5,599.87 304,608.22 309.5,609.79 315,617.54 320.5,616.89 326,619.86 331.5,616.03 337,619.07 342.5,623.53 348,622.21 353.5,627.16 359,625.42 364.5,620.78 370,621.13 375.5,624.03 381,624.53 386.5,623.67 392,624.24 397.5,619.7 403,613.68 408.5,614.22 414,618.85 419.5,621.29 425,621.59 430.5,622.49 436,626.91 441.5,629.16 447,630 452.5,630.7 458,630.02 463.5,632.93 469,637.26 474.5,636.57 480,637.7 485.5,634.74 491,634.77 496.5,631.13 502,629.79 507.5,629.89 513,627.46 518.5,630.75 524,632.88 529.5,631.95 535,627.58 540.5,630.62 546,631.33 551.5,630.62 557,629.64 562.5,629.86 568,629.04 573.5,625.87 579,625.1 584.5,632.55 590,632.59 595.5,631.96 601,629.91 606.5,629.91 612,630.63 617.5,630.11 623,630.68 628.5,628.35 634,615.61 639.5,611.11 645,608.73 650.5,611.2 656,614.77 661.5,608.73 667,611.12 672.5,614.24 678,615.44 683.5,603.33 689,603.41 694.5,603.13 700,602.95 705.5,599.54 711,607.86 716.5,605.07 722,607.27 727.5,611.4 733,611.98 738.5,609.01 744,611.59 749.5,614.93 755,614.01 760.5,605.32 766,605.08 771.5,606.46 777,606.15 782.5,606.88 788,609.68 793.5,610.19 799,609.74 804.5,619.76 810,619.83 815.5,620.37 821,620.89 826.5,618.57 832,619.36 837.5,612.87 843,613.09 848.5,616.1 854,607.43 859.5,598.19 865,597.57 870.5,594.57 876,594.08 881.5,593.82 887,590.83 892.5,587.27 898,596.08 903.5,594.18 909,596.7 914.5,594.74 920,601.46 925.5,601.52 931,600.96 936.5,600.38 942,593.02 947.5,589.84 953,591.33 958.5,584.88 964,582.87 969.5,584.41 975,587.61 980.5,585.79 986,590.46 991.5,597.36 997,598.55 1002.5,601.98 1008,601.01 1013.5,605.65 1019,601.16 1024.5,599.39 1030,600.83 1035.5,599.25 1041,604.39 1046.5,610.09 1052,610.63 1057.5,620.1 1063,614.12 1068.5,607.09 1074,606.72 1079.5,618.19 1085,617.55 1090.5,617.9 1096,612.2 1101.5,618.87 1107,620.93 1112.5,616.8 1118,612.85 1123.5,611.16 1129,613.86 1134.5,613.66 1140,608.59 1145.5,609.66 1151,609.12 1156.5,600.66 1162,596.08 1167.5,592.93 1173,593.9 1178.5,592.44 1184,591.22 1189.5,601.58 1195,603 1200.5,600.67 1206,604.4 1211.5,600.95 1217,600.23 1222.5,605.14 1228,606.38 1233.5,606.59 1233.5,633.77" fill="url(#gos)" clip-path="url(#cos)"/>
<line x1="10.5" y1="598.88" x2="1449" y2="598.88" stroke="#8d909a" stroke-width="1.15" stroke-dasharray="4.3 5.03"/>
<line x1="10.5" y1="616.32" x2="1449" y2="616.32" stroke="#b4b7c0" stroke-width="1" stroke-dasharray="4.3 5.03"/>
<line x1="10.5" y1="633.77" x2="1449" y2="633.77" stroke="#8d909a" stroke-width="1.15" stroke-dasharray="4.3 5.03"/>
<polyline fill="none" stroke="#fde63d" stroke-width="1.25" stroke-linejoin="round" points="10.5,604.35 12.5,603.74 18,602.06 23.5,600.51 29,598.82 34.5,597.25 40,595.32 45.5,593.25 51,591.61 56.5,589.88 62,588.74 67.5,588.32 73,587.85 78.5,587.08 84,585.97 89.5,585.4 95,586.48 100.5,587.22 106,587.84 111.5,588.48 117,589.61 122.5,590.8 128,592.11 133.5,593.84 139,595.55 144.5,596.21 150,596.84 155.5,598.55 161,601.13 166.5,603.84 172,605.25 177.5,606.69 183,608.56 188.5,610.33 194,611.94 199.5,613.69 205,615.63 210.5,616.97 216,617.45 221.5,618.02 227,618.48 232.5,618.06 238,617.13 243.5,616.07 249,615.5 254.5,615.03 260,614.68 265.5,613.97 271,612.95 276.5,611.56 282,610.1 287.5,608.87 293,607.86 298.5,606.99 304,606.89 309.5,607.02 315,607.67 320.5,608.45 326,608.97 331.5,609.29 337,609.53 342.5,610.42 348,611.55 353.5,613.34 359,614.96 364.5,616.26 370,617.68 375.5,619.4 381,620.57 386.5,621.56 392,622.04 397.5,622.24 403,621.8 408.5,621.67 414,621.65 419.5,621.49 425,621.45 430.5,621.12 436,621.22 441.5,621.82 447,622.45 452.5,622.93 458,623.32 463.5,623.98 469,624.91 474.5,626.12 480,627.83 485.5,629.3 491,630.44 496.5,631.14 502,631.73 507.5,632.25 513,632.29 518.5,632.41 524,632.61 529.5,632.7 535,632.53 540.5,632.36 546,631.94 551.5,631.51 557,630.94 562.5,630.59 568,630.18 573.5,629.8 579,629.47 584.5,629.66 590,630.03 595.5,630.11 601,629.9 606.5,629.76 612,629.97 617.5,629.94 623,629.89 628.5,629.73 634,628.73 639.5,627.39 645,625.94 650.5,624.89 656,624.15 661.5,622.45 667,620.92 672.5,619.65 678,618.62 683.5,616.72 689,614.77 694.5,612.84 700,610.86 705.5,608.81 711,608.25 716.5,607.82 722,607.72 727.5,607.73 733,607.53 738.5,607.55 744,607.59 749.5,607.64 755,607.53 760.5,607.68 766,607.8 771.5,608.03 777,608.26 782.5,608.79 788,608.92 793.5,609.28 799,609.46 804.5,610.05 810,610.62 815.5,611.43 821,612.09 826.5,612.35 832,612.73 837.5,613.27 843,613.85 848.5,614.53 854,614.63 859.5,614.01 865,613.14 870.5,612.02 876,610.91 881.5,609.05 887,606.98 892.5,604.62 898,602.85 903.5,601.1 909,599.48 914.5,598.19 920,597.36 925.5,596.32 931,595.85 936.5,596.01 942,595.69 947.5,595.35 953,595.15 958.5,594.51 964,593.94 969.5,593.74 975,593.14 980.5,592.54 986,592.09 991.5,592.28 997,592.07 1002.5,592.1 1008,592.11 1013.5,592.48 1019,593.06 1024.5,593.75 1030,594.42 1035.5,595.45 1041,596.99 1046.5,598.82 1052,600.47 1057.5,602.92 1063,604.61 1068.5,605.3 1074,605.89 1079.5,607.04 1085,608.23 1090.5,609.1 1096,609.89 1101.5,611.28 1107,612.72 1112.5,613.97 1118,614.57 1123.5,614.65 1129,614.88 1134.5,614.42 1140,614.03 1145.5,614.21 1151,614.38 1156.5,613.13 1162,611.59 1167.5,609.81 1173,608.5 1178.5,606.62 1184,604.49 1189.5,603.41 1195,602.7 1200.5,601.95 1206,601.28 1211.5,600.37 1217,599.77 1222.5,599.45 1228,599.26 1233.5,599.68"/>
<polyline fill="none" stroke="#7e57c2" stroke-width="1.25" stroke-linejoin="round" points="10.5,592.55 12.5,590.76 18,585.79 23.5,587.62 29,585.71 34.5,587.37 40,582.29 45.5,580.37 51,577.79 56.5,576.68 62,584.83 67.5,594.9 73,594.22 78.5,589.95 84,585.34 89.5,582.77 95,600.92 100.5,597.93 106,594.44 111.5,596.26 117,598.13 122.5,596.98 128,596.13 133.5,600.98 139,608.79 144.5,604.07 150,603.08 155.5,613.82 161,621.52 166.5,620.75 172,620.62 177.5,618.15 183,620.53 188.5,621.14 194,620.64 199.5,621.44 205,623.36 210.5,619.71 216,615.45 221.5,612.08 227,609.57 232.5,607.9 238,608.43 243.5,606.03 249,612.6 254.5,611.49 260,615.68 265.5,611.18 271,606.33 276.5,602.1 282,602.79 287.5,602.56 293,601.27 298.5,599.87 304,608.22 309.5,609.79 315,617.54 320.5,616.89 326,619.86 331.5,616.03 337,619.07 342.5,623.53 348,622.21 353.5,627.16 359,625.42 364.5,620.78 370,621.13 375.5,624.03 381,624.53 386.5,623.67 392,624.24 397.5,619.7 403,613.68 408.5,614.22 414,618.85 419.5,621.29 425,621.59 430.5,622.49 436,626.91 441.5,629.16 447,630 452.5,630.7 458,630.02 463.5,632.93 469,637.26 474.5,636.57 480,637.7 485.5,634.74 491,634.77 496.5,631.13 502,629.79 507.5,629.89 513,627.46 518.5,630.75 524,632.88 529.5,631.95 535,627.58 540.5,630.62 546,631.33 551.5,630.62 557,629.64 562.5,629.86 568,629.04 573.5,625.87 579,625.1 584.5,632.55 590,632.59 595.5,631.96 601,629.91 606.5,629.91 612,630.63 617.5,630.11 623,630.68 628.5,628.35 634,615.61 639.5,611.11 645,608.73 650.5,611.2 656,614.77 661.5,608.73 667,611.12 672.5,614.24 678,615.44 683.5,603.33 689,603.41 694.5,603.13 700,602.95 705.5,599.54 711,607.86 716.5,605.07 722,607.27 727.5,611.4 733,611.98 738.5,609.01 744,611.59 749.5,614.93 755,614.01 760.5,605.32 766,605.08 771.5,606.46 777,606.15 782.5,606.88 788,609.68 793.5,610.19 799,609.74 804.5,619.76 810,619.83 815.5,620.37 821,620.89 826.5,618.57 832,619.36 837.5,612.87 843,613.09 848.5,616.1 854,607.43 859.5,598.19 865,597.57 870.5,594.57 876,594.08 881.5,593.82 887,590.83 892.5,587.27 898,596.08 903.5,594.18 909,596.7 914.5,594.74 920,601.46 925.5,601.52 931,600.96 936.5,600.38 942,593.02 947.5,589.84 953,591.33 958.5,584.88 964,582.87 969.5,584.41 975,587.61 980.5,585.79 986,590.46 991.5,597.36 997,598.55 1002.5,601.98 1008,601.01 1013.5,605.65 1019,601.16 1024.5,599.39 1030,600.83 1035.5,599.25 1041,604.39 1046.5,610.09 1052,610.63 1057.5,620.1 1063,614.12 1068.5,607.09 1074,606.72 1079.5,618.19 1085,617.55 1090.5,617.9 1096,612.2 1101.5,618.87 1107,620.93 1112.5,616.8 1118,612.85 1123.5,611.16 1129,613.86 1134.5,613.66 1140,608.59 1145.5,609.66 1151,609.12 1156.5,600.66 1162,596.08 1167.5,592.93 1173,593.9 1178.5,592.44 1184,591.22 1189.5,601.58 1195,603 1200.5,600.67 1206,604.4 1211.5,600.95 1217,600.23 1222.5,605.14 1228,606.38 1233.5,606.59"/>
<rect x="17" y="582" width="203" height="16" fill="#fff" fill-opacity="0.28"/>
<text x="19.5" y="594.2" font-size="13" fill="#54565c" textLength="15.2" lengthAdjust="spacingAndGlyphs" stroke="#54565c" stroke-width="0.2">RSI</text>
<text x="41.3" y="594.2" font-size="13" fill="#54565c" textLength="21.3" lengthAdjust="spacingAndGlyphs" stroke="#54565c" stroke-width="0.2">(14,</text>
<text x="66.9" y="594.2" font-size="13" fill="#54565c" textLength="32.6" lengthAdjust="spacingAndGlyphs" stroke="#54565c" stroke-width="0.2">close)</text>
<text x="108.3" y="594.2" font-size="13" fill="#7e57c2" textLength="30.8" lengthAdjust="spacingAndGlyphs" stroke="#7e57c2" stroke-width="0.15">61.10</text>
<text x="147.6" y="594.2" font-size="13" fill="#fde63d" textLength="30.4" lengthAdjust="spacingAndGlyphs" stroke="#fde63d" stroke-width="0.2">69.10</text>
<circle cx="192.4" cy="589.9" r="4.2" fill="none" stroke="#54565c" stroke-width="1.05"/><line x1="188.0" y1="594.5" x2="196.9" y2="585.1" stroke="#54565c" stroke-width="1.05"/>
<circle cx="212.2" cy="589.9" r="4.2" fill="none" stroke="#54565c" stroke-width="1.05"/><line x1="207.79999999999998" y1="594.5" x2="216.7" y2="585.1" stroke="#54565c" stroke-width="1.05"/>
<text x="19.4" y="49" font-size="13" fill="#54565c" textLength="38.8" lengthAdjust="spacingAndGlyphs" stroke="#54565c" stroke-width="0.2">Bitcoin</text>
<text x="64.4" y="49" font-size="13" fill="#54565c" textLength="4.2" lengthAdjust="spacingAndGlyphs" stroke="#54565c" stroke-width="0.2">/</text>
<text x="73.3" y="49" font-size="13" fill="#54565c" textLength="53.9" lengthAdjust="spacingAndGlyphs" stroke="#54565c" stroke-width="0.2">TetherUS,</text>
<text x="133.5" y="49" font-size="13" fill="#54565c" textLength="18.7" lengthAdjust="spacingAndGlyphs" stroke="#54565c" stroke-width="0.2">1W,</text>
<text x="158.2" y="49" font-size="13" fill="#54565c" textLength="47" lengthAdjust="spacingAndGlyphs" stroke="#54565c" stroke-width="0.2">BINANCE</text>
<text x="214.6" y="49" font-size="13" fill="#54565c" textLength="7" lengthAdjust="spacingAndGlyphs" stroke="#54565c" stroke-width="0.2">O</text>
<text x="288.4" y="49" font-size="13" fill="#54565c" textLength="6.8" lengthAdjust="spacingAndGlyphs" stroke="#54565c" stroke-width="0.2">H</text>
<text x="359.8" y="49" font-size="13" fill="#54565c" textLength="5" lengthAdjust="spacingAndGlyphs" stroke="#54565c" stroke-width="0.2">L</text>
<text x="430.4" y="49" font-size="13" fill="#54565c" textLength="6.4" lengthAdjust="spacingAndGlyphs" stroke="#54565c" stroke-width="0.2">C</text>
<text x="222.6" y="49" font-size="13" fill="#ef5350" textLength="55.5" lengthAdjust="spacingAndGlyphs" stroke="#ef5350" stroke-width="0.2">96,462.75</text>
<text x="296.2" y="49" font-size="13" fill="#ef5350" textLength="54.6" lengthAdjust="spacingAndGlyphs" stroke="#ef5350" stroke-width="0.2">98,478.42</text>
<text x="365.6" y="49" font-size="13" fill="#ef5350" textLength="55.2" lengthAdjust="spacingAndGlyphs" stroke="#ef5350" stroke-width="0.2">94,876.88</text>
<text x="437.8" y="49" font-size="13" fill="#ef5350" textLength="55.9" lengthAdjust="spacingAndGlyphs" stroke="#ef5350" stroke-width="0.2">96,334.44</text>
<text x="502" y="49" font-size="13" fill="#ef5350" textLength="40.5" lengthAdjust="spacingAndGlyphs" stroke="#ef5350" stroke-width="0.2">−128.31</text>
<text x="548.5" y="49" font-size="13" fill="#ef5350" textLength="49.8" lengthAdjust="spacingAndGlyphs" stroke="#ef5350" stroke-width="0.2">(−0.13%)</text>
<text x="19.4" y="66.5" font-size="13" fill="#54565c" textLength="16.2" lengthAdjust="spacingAndGlyphs" stroke="#54565c" stroke-width="0.2">Vol</text>
<text x="49" y="66.5" font-size="13" fill="#54565c" textLength="21" lengthAdjust="spacingAndGlyphs" stroke="#54565c" stroke-width="0.2">BTC</text>
<circle cx="42.2" cy="63" r="1" fill="#54565c"/>
<text x="78.6" y="66.5" font-size="13" fill="#ef5350" textLength="30.8" lengthAdjust="spacingAndGlyphs" stroke="#ef5350" stroke-width="0.2">46.04</text>
<text x="113.2" y="66.5" font-size="13" fill="#ef5350" textLength="6.7" lengthAdjust="spacingAndGlyphs" stroke="#ef5350" stroke-width="0.2">K</text>
<text x="10.6" y="20.8" font-size="13.3" fill="#1a1d26" textLength="81.9" lengthAdjust="spacingAndGlyphs" >Jake_Simmons</text>
<text x="97.9" y="20.8" font-size="13.3" fill="#1a1d26" textLength="52.9" lengthAdjust="spacingAndGlyphs" >published</text>
<text x="156.3" y="20.8" font-size="13.3" fill="#1a1d26" textLength="12" lengthAdjust="spacingAndGlyphs" >on</text>
<text x="173.8" y="20.8" font-size="13.3" fill="#1a1d26" textLength="99.1" lengthAdjust="spacingAndGlyphs" >TradingView.com,</text>
<text x="278.3" y="20.8" font-size="13.3" fill="#1a1d26" textLength="18.4" lengthAdjust="spacingAndGlyphs" >Feb</text>
<text x="302.5" y="20.8" font-size="13.3" fill="#1a1d26" textLength="15.5" lengthAdjust="spacingAndGlyphs" >12,</text>
<text x="324.2" y="20.8" font-size="13.3" fill="#1a1d26" textLength="25" lengthAdjust="spacingAndGlyphs" >2025</text>
<text x="354.2" y="20.8" font-size="13.3" fill="#1a1d26" textLength="30" lengthAdjust="spacingAndGlyphs" >06:46</text>
<text x="389.6" y="20.8" font-size="13.3" fill="#1a1d26" textLength="35.4" lengthAdjust="spacingAndGlyphs" >UTC-5</text>
<g shape-rendering="crispEdges">
<rect x="1450" y="29" width="76" height="543" fill="#fff"/>
<rect x="1450" y="573" width="76" height="69" fill="#fff"/>
<rect x="10.5" y="28.5" width="1515" height="643" fill="none" stroke="#eff1f5" stroke-width="1"/>
<line x1="10" y1="572.5" x2="1526" y2="572.5" stroke="#dfe2ea" stroke-width="1"/>
<line x1="1449.5" y1="29" x2="1449.5" y2="671" stroke="#565963" stroke-width="1"/>
<line x1="10" y1="642.5" x2="1526" y2="642.5" stroke="#565963" stroke-width="1"/>
</g>
<rect x="1453.5" y="32.5" width="68" height="27" rx="4" ry="4" fill="#fff" stroke="#f1f3f7" stroke-width="1"/>
<text x="1463.6" y="49.8" font-size="12.5" fill="#22252e" textLength="29" lengthAdjust="spacingAndGlyphs" stroke="#22252e" stroke-width="0.25">USDT</text>
<text x="1459.2" y="81.11" font-size="11.3" fill="#555861" textLength="56.5" lengthAdjust="spacingAndGlyphs" >130,000.00</text>
<text x="1459.2" y="114.39" font-size="11.3" fill="#555861" textLength="56.5" lengthAdjust="spacingAndGlyphs" >110,000.00</text>
<text x="1459.2" y="191.1" font-size="11.3" fill="#555861" textLength="50.2" lengthAdjust="spacingAndGlyphs" >75,000.00</text>
<text x="1459.2" y="225.84" font-size="11.3" fill="#555861" textLength="50.2" lengthAdjust="spacingAndGlyphs" >63,000.00</text>
<text x="1459.2" y="267.94" font-size="11.3" fill="#555861" textLength="50.2" lengthAdjust="spacingAndGlyphs" >51,000.00</text>
<text x="1459.2" y="299.63" font-size="11.3" fill="#555861" textLength="50.2" lengthAdjust="spacingAndGlyphs" >43,500.00</text>
<text x="1459.2" y="340.12" font-size="11.3" fill="#555861" textLength="50.2" lengthAdjust="spacingAndGlyphs" >35,500.00</text>
<text x="1459.2" y="377" font-size="11.3" fill="#555861" textLength="50.2" lengthAdjust="spacingAndGlyphs" >29,500.00</text>
<text x="1459.2" y="422.31" font-size="11.3" fill="#555861" textLength="50.2" lengthAdjust="spacingAndGlyphs" >23,500.00</text>
<text x="1459.2" y="459.48" font-size="11.3" fill="#555861" textLength="50.2" lengthAdjust="spacingAndGlyphs" >19,500.00</text>
<text x="1459.2" y="492.76" font-size="11.3" fill="#555861" textLength="50.2" lengthAdjust="spacingAndGlyphs" >16,500.00</text>
<text x="1459.2" y="524.08" font-size="11.3" fill="#555861" textLength="50.2" lengthAdjust="spacingAndGlyphs" >14,100.00</text>
<text x="1459.2" y="554.56" font-size="11.3" fill="#555861" textLength="50.2" lengthAdjust="spacingAndGlyphs" >12,100.00</text>
<text x="1458.5" y="594.2" font-size="11.3" fill="#555861" textLength="28.7" lengthAdjust="spacingAndGlyphs" >80.00</text>
<text x="1458.5" y="629.3" font-size="11.3" fill="#555861" textLength="28.7" lengthAdjust="spacingAndGlyphs" >40.00</text>
<path d="M1397 129.3 H1450 V146.4 H1397 a3 3 0 0 1 -3 -3 V132.3 a3 3 0 0 1 3 -3z" fill="#ef5350"/>
<path d="M1449 129.3 H1512 a3 3 0 0 1 3 3 V156.7 a3 3 0 0 1 -3 3 H1449z" fill="#ef5350"/>
<line x1="1449.5" y1="129" x2="1449.5" y2="160" stroke="#5a4a52" stroke-width="1" shape-rendering="crispEdges"/>
<text x="1398" y="142.3" font-size="11.4" fill="#fff" textLength="46.3" lengthAdjust="spacingAndGlyphs" stroke="#fff" stroke-width="0.15">BTCUSDT</text>
<text x="1458.9" y="141.5" font-size="11.4" fill="#fff" textLength="50.3" lengthAdjust="spacingAndGlyphs" stroke="#fff" stroke-width="0.3">96,334.44</text>
<text x="1458.9" y="154.9" font-size="11.4" fill="#fff" textLength="33.7" lengthAdjust="spacingAndGlyphs" fill-opacity="0.85">4d 13h</text>
<text x="56.2" y="661.1" font-size="10.8" fill="#555861" text-anchor="middle" textLength="25.6" lengthAdjust="spacingAndGlyphs" font-weight="bold">2021</text>
<text x="149.7" y="661.1" font-size="10.8" fill="#555861" text-anchor="middle" textLength="19.5" lengthAdjust="spacingAndGlyphs" >May</text>
<text x="248.7" y="661.1" font-size="10.8" fill="#555861" text-anchor="middle" textLength="18" lengthAdjust="spacingAndGlyphs" >Sep</text>
<text x="342.2" y="661.1" font-size="10.8" fill="#555861" text-anchor="middle" textLength="26" lengthAdjust="spacingAndGlyphs" font-weight="bold">2022</text>
<text x="435.7" y="661.1" font-size="10.8" fill="#555861" text-anchor="middle" textLength="19.5" lengthAdjust="spacingAndGlyphs" >May</text>
<text x="534.7" y="661.1" font-size="10.8" fill="#555861" text-anchor="middle" textLength="18" lengthAdjust="spacingAndGlyphs" >Sep</text>
<text x="628.2" y="661.1" font-size="10.8" fill="#555861" text-anchor="middle" textLength="26" lengthAdjust="spacingAndGlyphs" font-weight="bold">2023</text>
<text x="721.7" y="661.1" font-size="10.8" fill="#555861" text-anchor="middle" textLength="19.5" lengthAdjust="spacingAndGlyphs" >May</text>
<text x="820.7" y="661.1" font-size="10.8" fill="#555861" text-anchor="middle" textLength="18" lengthAdjust="spacingAndGlyphs" >Sep</text>
<text x="914.2" y="661.1" font-size="10.8" fill="#555861" text-anchor="middle" textLength="26" lengthAdjust="spacingAndGlyphs" font-weight="bold">2024</text>
<text x="1013.2" y="661.1" font-size="10.8" fill="#555861" text-anchor="middle" textLength="19.5" lengthAdjust="spacingAndGlyphs" >May</text>
<text x="1106.7" y="661.1" font-size="10.8" fill="#555861" text-anchor="middle" textLength="18" lengthAdjust="spacingAndGlyphs" >Sep</text>
<text x="1205.7" y="661.1" font-size="10.8" fill="#555861" text-anchor="middle" textLength="26" lengthAdjust="spacingAndGlyphs" font-weight="bold">2025</text>
<text x="1299.2" y="661.1" font-size="10.8" fill="#555861" text-anchor="middle" textLength="19.5" lengthAdjust="spacingAndGlyphs" >May</text>
<text x="1392.7" y="661.1" font-size="10.8" fill="#555861" text-anchor="middle" textLength="18" lengthAdjust="spacingAndGlyphs" >Sep</text>
<g fill="#131722"><path d="M10.75 684.7H18.8V694.85H14.8V688.9H10.75z"/><circle cx="22.15" cy="686.5" r="1.65"/><path d="M24.8 684.7H31.1L27.2 694.85H22.1z"/></g>
<text x="35.1" y="695.3" font-size="13.6" fill="#131722" textLength="73.7" lengthAdjust="spacingAndGlyphs" stroke="#131722" stroke-width="0.2">TradingView</text>
</svg></body></html>
